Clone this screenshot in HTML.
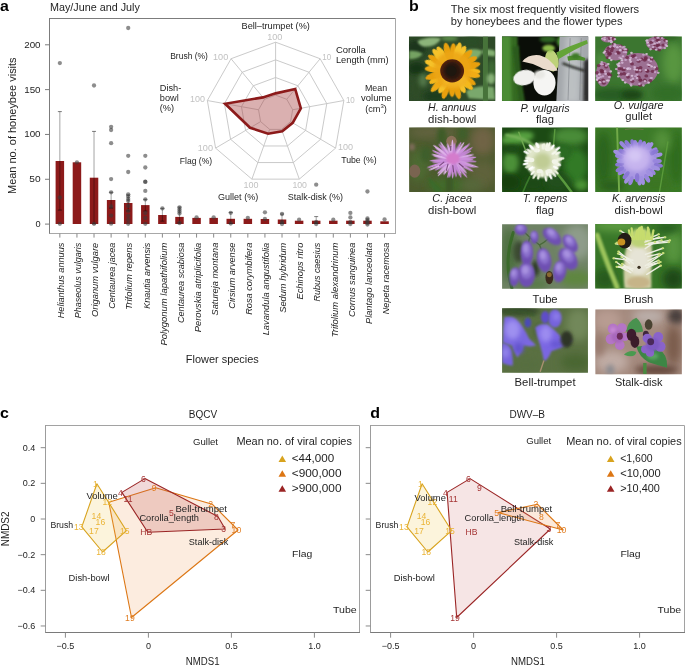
<!DOCTYPE html>
<html><head><meta charset="utf-8"><title>Figure</title>
<style>
html,body{margin:0;padding:0;background:#fff;}
body{width:685px;height:665px;overflow:hidden;}
svg{display:block;font-family:"Liberation Sans",sans-serif;will-change:transform;}
</style></head>
<body>
<svg width="685" height="665" viewBox="0 0 685 665">
<rect width="685" height="665" fill="#fff"/>
<text x="0.00" y="11.30" font-size="14.5" fill="#000" style="font-weight:bold;" transform="scale(1.1 1)">a</text>
<text x="50.00" y="11.20" font-size="10.7" fill="#1e1e1e" textLength="89.90" lengthAdjust="spacingAndGlyphs" >May/June and July</text>
<line x1="49.50" y1="18.50" x2="395.50" y2="18.50" stroke="#7c7c7c" stroke-width="1"/>
<line x1="49.50" y1="18.00" x2="49.50" y2="234.00" stroke="#7c7c7c" stroke-width="1"/>
<line x1="395.50" y1="18.50" x2="395.50" y2="233.50" stroke="#a8a8a8" stroke-width="1"/>
<line x1="49.50" y1="233.50" x2="396.00" y2="233.50" stroke="#a8a8a8" stroke-width="1"/>
<line x1="45.00" y1="224.10" x2="49.50" y2="224.10" stroke="#7c7c7c" stroke-width="1"/>
<text x="40.60" y="227.10" font-size="9.2" fill="#1e1e1e" text-anchor="end" >0</text>
<line x1="45.00" y1="179.28" x2="49.50" y2="179.28" stroke="#7c7c7c" stroke-width="1"/>
<text x="40.60" y="182.28" font-size="9.2" fill="#1e1e1e" text-anchor="end" textLength="11.30" lengthAdjust="spacingAndGlyphs" >50</text>
<line x1="45.00" y1="134.45" x2="49.50" y2="134.45" stroke="#7c7c7c" stroke-width="1"/>
<text x="40.60" y="137.45" font-size="9.2" fill="#1e1e1e" text-anchor="end" textLength="16.40" lengthAdjust="spacingAndGlyphs" >100</text>
<line x1="45.00" y1="89.62" x2="49.50" y2="89.62" stroke="#7c7c7c" stroke-width="1"/>
<text x="40.60" y="92.62" font-size="9.2" fill="#1e1e1e" text-anchor="end" textLength="16.40" lengthAdjust="spacingAndGlyphs" >150</text>
<line x1="45.00" y1="44.80" x2="49.50" y2="44.80" stroke="#7c7c7c" stroke-width="1"/>
<text x="40.60" y="47.80" font-size="9.2" fill="#1e1e1e" text-anchor="end" textLength="16.40" lengthAdjust="spacingAndGlyphs" >200</text>
<text x="16.30" y="125.70" font-size="10.6" fill="#1e1e1e" text-anchor="middle" textLength="136.60" lengthAdjust="spacingAndGlyphs" transform="rotate(-90 16.30 125.70)" >Mean no. of honeybee visits</text>
<rect x="55.60" y="161.00" width="8.5" height="63.00" fill="#8c1a1a"/>
<rect x="72.69" y="162.30" width="8.5" height="61.70" fill="#8c1a1a"/>
<rect x="89.78" y="177.70" width="8.5" height="46.30" fill="#8c1a1a"/>
<rect x="106.87" y="200.00" width="8.5" height="24.00" fill="#8c1a1a"/>
<rect x="123.96" y="203.00" width="8.5" height="21.00" fill="#8c1a1a"/>
<rect x="141.05" y="205.10" width="8.5" height="18.90" fill="#8c1a1a"/>
<rect x="158.14" y="215.00" width="8.5" height="9.00" fill="#8c1a1a"/>
<rect x="175.23" y="216.90" width="8.5" height="7.10" fill="#8c1a1a"/>
<rect x="192.32" y="217.90" width="8.5" height="6.10" fill="#8c1a1a"/>
<rect x="209.41" y="217.90" width="8.5" height="6.10" fill="#8c1a1a"/>
<rect x="226.50" y="218.80" width="8.5" height="5.20" fill="#8c1a1a"/>
<rect x="243.59" y="218.80" width="8.5" height="5.20" fill="#8c1a1a"/>
<rect x="260.68" y="219.00" width="8.5" height="5.00" fill="#8c1a1a"/>
<rect x="277.77" y="219.50" width="8.5" height="4.50" fill="#8c1a1a"/>
<rect x="294.86" y="220.70" width="8.5" height="3.30" fill="#8c1a1a"/>
<rect x="311.95" y="220.70" width="8.5" height="3.30" fill="#8c1a1a"/>
<rect x="329.04" y="220.70" width="8.5" height="3.30" fill="#8c1a1a"/>
<rect x="346.13" y="220.70" width="8.5" height="3.30" fill="#8c1a1a"/>
<rect x="363.22" y="220.70" width="8.5" height="3.30" fill="#8c1a1a"/>
<rect x="380.31" y="221.30" width="8.5" height="2.70" fill="#8c1a1a"/>
<line x1="59.85" y1="111.60" x2="59.85" y2="210.10" stroke="#000" stroke-opacity="0.36" stroke-width="1"/>
<line x1="57.85" y1="111.60" x2="61.85" y2="111.60" stroke="#000" stroke-opacity="0.5" stroke-width="1"/>
<line x1="57.85" y1="210.10" x2="61.85" y2="210.10" stroke="#000" stroke-opacity="0.5" stroke-width="1"/>
<circle cx="59.85" cy="63.10" r="2.15" fill="#3a3a3a" fill-opacity="0.58"/>
<circle cx="59.85" cy="197.40" r="2.15" fill="#3a3a3a" fill-opacity="0.58"/>
<circle cx="59.85" cy="223.80" r="2.15" fill="#3a3a3a" fill-opacity="0.58"/>
<line x1="59.85" y1="233.50" x2="59.85" y2="237.60" stroke="#8a8a8a" stroke-width="1"/>
<text x="64.15" y="242.70" font-size="9.0" fill="#1e1e1e" text-anchor="end" textLength="75.60" lengthAdjust="spacingAndGlyphs" transform="rotate(-90 64.15 242.70)" style="font-style:italic;" >Helianthus annuus</text>
<circle cx="76.94" cy="162.30" r="2.15" fill="#3a3a3a" fill-opacity="0.58"/>
<line x1="76.94" y1="233.50" x2="76.94" y2="237.60" stroke="#8a8a8a" stroke-width="1"/>
<text x="81.24" y="242.70" font-size="9.0" fill="#1e1e1e" text-anchor="end" textLength="75.60" lengthAdjust="spacingAndGlyphs" transform="rotate(-90 81.24 242.70)" style="font-style:italic;" >Phaseolus vulgaris</text>
<line x1="94.03" y1="131.40" x2="94.03" y2="224.00" stroke="#000" stroke-opacity="0.36" stroke-width="1"/>
<line x1="92.03" y1="131.40" x2="96.03" y2="131.40" stroke="#000" stroke-opacity="0.5" stroke-width="1"/>
<line x1="92.03" y1="224.00" x2="96.03" y2="224.00" stroke="#000" stroke-opacity="0.5" stroke-width="1"/>
<circle cx="94.03" cy="85.50" r="2.15" fill="#3a3a3a" fill-opacity="0.58"/>
<circle cx="94.03" cy="223.80" r="2.15" fill="#3a3a3a" fill-opacity="0.58"/>
<line x1="94.03" y1="233.50" x2="94.03" y2="237.60" stroke="#8a8a8a" stroke-width="1"/>
<text x="98.33" y="242.70" font-size="9.0" fill="#1e1e1e" text-anchor="end" textLength="74.20" lengthAdjust="spacingAndGlyphs" transform="rotate(-90 98.33 242.70)" style="font-style:italic;" >Origanum vulgare</text>
<line x1="111.12" y1="192.30" x2="111.12" y2="208.00" stroke="#000" stroke-opacity="0.36" stroke-width="1"/>
<line x1="109.12" y1="192.30" x2="113.12" y2="192.30" stroke="#000" stroke-opacity="0.5" stroke-width="1"/>
<line x1="109.12" y1="208.00" x2="113.12" y2="208.00" stroke="#000" stroke-opacity="0.5" stroke-width="1"/>
<circle cx="111.12" cy="126.80" r="2.15" fill="#3a3a3a" fill-opacity="0.58"/>
<circle cx="111.12" cy="130.00" r="2.15" fill="#3a3a3a" fill-opacity="0.58"/>
<circle cx="111.12" cy="143.20" r="2.15" fill="#3a3a3a" fill-opacity="0.58"/>
<circle cx="111.12" cy="179.10" r="2.15" fill="#3a3a3a" fill-opacity="0.58"/>
<circle cx="111.12" cy="192.30" r="2.15" fill="#3a3a3a" fill-opacity="0.58"/>
<circle cx="111.12" cy="206.50" r="2.15" fill="#3a3a3a" fill-opacity="0.58"/>
<circle cx="111.12" cy="215.60" r="2.15" fill="#3a3a3a" fill-opacity="0.58"/>
<circle cx="111.12" cy="223.70" r="2.15" fill="#3a3a3a" fill-opacity="0.58"/>
<line x1="111.12" y1="233.50" x2="111.12" y2="237.60" stroke="#8a8a8a" stroke-width="1"/>
<text x="115.42" y="242.70" font-size="9.0" fill="#1e1e1e" text-anchor="end" textLength="66.00" lengthAdjust="spacingAndGlyphs" transform="rotate(-90 115.42 242.70)" style="font-style:italic;" >Centaurea jacea</text>
<line x1="128.21" y1="195.00" x2="128.21" y2="211.00" stroke="#000" stroke-opacity="0.36" stroke-width="1"/>
<line x1="126.21" y1="195.00" x2="130.21" y2="195.00" stroke="#000" stroke-opacity="0.5" stroke-width="1"/>
<line x1="126.21" y1="211.00" x2="130.21" y2="211.00" stroke="#000" stroke-opacity="0.5" stroke-width="1"/>
<circle cx="128.21" cy="28.00" r="2.15" fill="#3a3a3a" fill-opacity="0.58"/>
<circle cx="128.21" cy="155.80" r="2.15" fill="#3a3a3a" fill-opacity="0.58"/>
<circle cx="128.21" cy="172.00" r="2.15" fill="#3a3a3a" fill-opacity="0.58"/>
<circle cx="128.21" cy="194.30" r="2.15" fill="#3a3a3a" fill-opacity="0.58"/>
<circle cx="128.21" cy="196.50" r="2.15" fill="#3a3a3a" fill-opacity="0.58"/>
<circle cx="128.21" cy="199.00" r="2.15" fill="#3a3a3a" fill-opacity="0.58"/>
<circle cx="128.21" cy="201.00" r="2.15" fill="#3a3a3a" fill-opacity="0.58"/>
<circle cx="128.21" cy="206.00" r="2.15" fill="#3a3a3a" fill-opacity="0.58"/>
<circle cx="128.21" cy="211.00" r="2.15" fill="#3a3a3a" fill-opacity="0.58"/>
<circle cx="128.21" cy="216.00" r="2.15" fill="#3a3a3a" fill-opacity="0.58"/>
<circle cx="128.21" cy="220.00" r="2.15" fill="#3a3a3a" fill-opacity="0.58"/>
<circle cx="128.21" cy="223.80" r="2.15" fill="#3a3a3a" fill-opacity="0.58"/>
<line x1="128.21" y1="233.50" x2="128.21" y2="237.60" stroke="#8a8a8a" stroke-width="1"/>
<text x="132.51" y="242.70" font-size="9.0" fill="#1e1e1e" text-anchor="end" textLength="67.00" lengthAdjust="spacingAndGlyphs" transform="rotate(-90 132.51 242.70)" style="font-style:italic;" >Trifolium repens</text>
<line x1="145.30" y1="199.40" x2="145.30" y2="211.00" stroke="#000" stroke-opacity="0.36" stroke-width="1"/>
<line x1="143.30" y1="199.40" x2="147.30" y2="199.40" stroke="#000" stroke-opacity="0.5" stroke-width="1"/>
<line x1="143.30" y1="211.00" x2="147.30" y2="211.00" stroke="#000" stroke-opacity="0.5" stroke-width="1"/>
<circle cx="145.30" cy="155.80" r="2.15" fill="#3a3a3a" fill-opacity="0.58"/>
<circle cx="145.30" cy="167.50" r="2.15" fill="#3a3a3a" fill-opacity="0.58"/>
<circle cx="145.30" cy="181.70" r="2.15" fill="#3a3a3a" fill-opacity="0.58"/>
<circle cx="145.30" cy="181.90" r="2.15" fill="#3a3a3a" fill-opacity="0.58"/>
<circle cx="145.30" cy="190.90" r="2.15" fill="#3a3a3a" fill-opacity="0.58"/>
<circle cx="145.30" cy="199.40" r="2.15" fill="#3a3a3a" fill-opacity="0.58"/>
<circle cx="145.30" cy="213.00" r="2.15" fill="#3a3a3a" fill-opacity="0.58"/>
<circle cx="145.30" cy="218.00" r="2.15" fill="#3a3a3a" fill-opacity="0.58"/>
<circle cx="145.30" cy="223.80" r="2.15" fill="#3a3a3a" fill-opacity="0.58"/>
<line x1="145.30" y1="233.50" x2="145.30" y2="237.60" stroke="#8a8a8a" stroke-width="1"/>
<text x="149.60" y="242.70" font-size="9.0" fill="#1e1e1e" text-anchor="end" textLength="66.00" lengthAdjust="spacingAndGlyphs" transform="rotate(-90 149.60 242.70)" style="font-style:italic;" >Knautia arvensis</text>
<line x1="162.39" y1="208.40" x2="162.39" y2="221.10" stroke="#000" stroke-opacity="0.36" stroke-width="1"/>
<line x1="160.39" y1="208.40" x2="164.39" y2="208.40" stroke="#000" stroke-opacity="0.5" stroke-width="1"/>
<line x1="160.39" y1="221.10" x2="164.39" y2="221.10" stroke="#000" stroke-opacity="0.5" stroke-width="1"/>
<circle cx="162.39" cy="208.40" r="2.15" fill="#3a3a3a" fill-opacity="0.58"/>
<line x1="162.39" y1="233.50" x2="162.39" y2="237.60" stroke="#8a8a8a" stroke-width="1"/>
<text x="166.69" y="242.70" font-size="9.0" fill="#1e1e1e" text-anchor="end" textLength="102.80" lengthAdjust="spacingAndGlyphs" transform="rotate(-90 166.69 242.70)" style="font-style:italic;" >Polygonum lapathifolium</text>
<line x1="179.48" y1="207.00" x2="179.48" y2="223.00" stroke="#000" stroke-opacity="0.36" stroke-width="1"/>
<line x1="177.48" y1="207.00" x2="181.48" y2="207.00" stroke="#000" stroke-opacity="0.5" stroke-width="1"/>
<line x1="177.48" y1="223.00" x2="181.48" y2="223.00" stroke="#000" stroke-opacity="0.5" stroke-width="1"/>
<circle cx="179.48" cy="207.50" r="2.15" fill="#3a3a3a" fill-opacity="0.58"/>
<circle cx="179.48" cy="209.50" r="2.15" fill="#3a3a3a" fill-opacity="0.58"/>
<circle cx="179.48" cy="211.50" r="2.15" fill="#3a3a3a" fill-opacity="0.58"/>
<circle cx="179.48" cy="213.50" r="2.15" fill="#3a3a3a" fill-opacity="0.58"/>
<circle cx="179.48" cy="223.00" r="2.15" fill="#3a3a3a" fill-opacity="0.58"/>
<line x1="179.48" y1="233.50" x2="179.48" y2="237.60" stroke="#8a8a8a" stroke-width="1"/>
<text x="183.78" y="242.70" font-size="9.0" fill="#1e1e1e" text-anchor="end" textLength="80.30" lengthAdjust="spacingAndGlyphs" transform="rotate(-90 183.78 242.70)" style="font-style:italic;" >Centaurea scabiosa</text>
<circle cx="196.57" cy="217.30" r="2.15" fill="#3a3a3a" fill-opacity="0.58"/>
<line x1="196.57" y1="233.50" x2="196.57" y2="237.60" stroke="#8a8a8a" stroke-width="1"/>
<text x="200.87" y="242.70" font-size="9.0" fill="#1e1e1e" text-anchor="end" textLength="89.50" lengthAdjust="spacingAndGlyphs" transform="rotate(-90 200.87 242.70)" style="font-style:italic;" >Perovskia atriplicifolia</text>
<circle cx="213.66" cy="217.30" r="2.15" fill="#3a3a3a" fill-opacity="0.58"/>
<line x1="213.66" y1="233.50" x2="213.66" y2="237.60" stroke="#8a8a8a" stroke-width="1"/>
<text x="217.96" y="242.70" font-size="9.0" fill="#1e1e1e" text-anchor="end" textLength="72.70" lengthAdjust="spacingAndGlyphs" transform="rotate(-90 217.96 242.70)" style="font-style:italic;" >Satureja montana</text>
<line x1="230.75" y1="212.50" x2="230.75" y2="223.50" stroke="#000" stroke-opacity="0.36" stroke-width="1"/>
<line x1="228.75" y1="212.50" x2="232.75" y2="212.50" stroke="#000" stroke-opacity="0.5" stroke-width="1"/>
<line x1="228.75" y1="223.50" x2="232.75" y2="223.50" stroke="#000" stroke-opacity="0.5" stroke-width="1"/>
<circle cx="230.75" cy="212.80" r="2.15" fill="#3a3a3a" fill-opacity="0.58"/>
<circle cx="230.75" cy="223.50" r="2.15" fill="#3a3a3a" fill-opacity="0.58"/>
<line x1="230.75" y1="233.50" x2="230.75" y2="237.60" stroke="#8a8a8a" stroke-width="1"/>
<text x="235.05" y="242.70" font-size="9.0" fill="#1e1e1e" text-anchor="end" textLength="66.00" lengthAdjust="spacingAndGlyphs" transform="rotate(-90 235.05 242.70)" style="font-style:italic;" >Cirsium arvense</text>
<circle cx="247.84" cy="217.80" r="2.15" fill="#3a3a3a" fill-opacity="0.58"/>
<line x1="247.84" y1="233.50" x2="247.84" y2="237.60" stroke="#8a8a8a" stroke-width="1"/>
<text x="252.14" y="242.70" font-size="9.0" fill="#1e1e1e" text-anchor="end" textLength="72.10" lengthAdjust="spacingAndGlyphs" transform="rotate(-90 252.14 242.70)" style="font-style:italic;" >Rosa corymbifera</text>
<circle cx="264.93" cy="212.30" r="2.15" fill="#3a3a3a" fill-opacity="0.58"/>
<circle cx="264.93" cy="219.00" r="2.15" fill="#3a3a3a" fill-opacity="0.58"/>
<line x1="264.93" y1="233.50" x2="264.93" y2="237.60" stroke="#8a8a8a" stroke-width="1"/>
<text x="269.23" y="242.70" font-size="9.0" fill="#1e1e1e" text-anchor="end" textLength="92.60" lengthAdjust="spacingAndGlyphs" transform="rotate(-90 269.23 242.70)" style="font-style:italic;" >Lavandula angustifolia</text>
<line x1="282.02" y1="214.00" x2="282.02" y2="223.50" stroke="#000" stroke-opacity="0.36" stroke-width="1"/>
<line x1="280.02" y1="214.00" x2="284.02" y2="214.00" stroke="#000" stroke-opacity="0.5" stroke-width="1"/>
<line x1="280.02" y1="223.50" x2="284.02" y2="223.50" stroke="#000" stroke-opacity="0.5" stroke-width="1"/>
<circle cx="282.02" cy="214.00" r="2.15" fill="#3a3a3a" fill-opacity="0.58"/>
<circle cx="282.02" cy="222.00" r="2.15" fill="#3a3a3a" fill-opacity="0.58"/>
<circle cx="282.02" cy="224.00" r="2.15" fill="#3a3a3a" fill-opacity="0.58"/>
<line x1="282.02" y1="233.50" x2="282.02" y2="237.60" stroke="#8a8a8a" stroke-width="1"/>
<text x="286.32" y="242.70" font-size="9.0" fill="#1e1e1e" text-anchor="end" textLength="70.10" lengthAdjust="spacingAndGlyphs" transform="rotate(-90 286.32 242.70)" style="font-style:italic;" >Sedum hybridum</text>
<circle cx="299.11" cy="219.70" r="2.15" fill="#3a3a3a" fill-opacity="0.58"/>
<line x1="299.11" y1="233.50" x2="299.11" y2="237.60" stroke="#8a8a8a" stroke-width="1"/>
<text x="303.41" y="242.70" font-size="9.0" fill="#1e1e1e" text-anchor="end" textLength="56.80" lengthAdjust="spacingAndGlyphs" transform="rotate(-90 303.41 242.70)" style="font-style:italic;" >Echinops ritro</text>
<line x1="316.20" y1="216.60" x2="316.20" y2="223.50" stroke="#000" stroke-opacity="0.36" stroke-width="1"/>
<line x1="314.20" y1="216.60" x2="318.20" y2="216.60" stroke="#000" stroke-opacity="0.5" stroke-width="1"/>
<line x1="314.20" y1="223.50" x2="318.20" y2="223.50" stroke="#000" stroke-opacity="0.5" stroke-width="1"/>
<circle cx="316.20" cy="184.70" r="2.15" fill="#3a3a3a" fill-opacity="0.58"/>
<circle cx="316.20" cy="222.00" r="2.15" fill="#3a3a3a" fill-opacity="0.58"/>
<circle cx="316.20" cy="224.00" r="2.15" fill="#3a3a3a" fill-opacity="0.58"/>
<line x1="316.20" y1="233.50" x2="316.20" y2="237.60" stroke="#8a8a8a" stroke-width="1"/>
<text x="320.50" y="242.70" font-size="9.0" fill="#1e1e1e" text-anchor="end" textLength="58.80" lengthAdjust="spacingAndGlyphs" transform="rotate(-90 320.50 242.70)" style="font-style:italic;" >Rubus caesius</text>
<circle cx="333.29" cy="219.70" r="2.15" fill="#3a3a3a" fill-opacity="0.58"/>
<line x1="333.29" y1="233.50" x2="333.29" y2="237.60" stroke="#8a8a8a" stroke-width="1"/>
<text x="337.59" y="242.70" font-size="9.0" fill="#1e1e1e" text-anchor="end" textLength="94.60" lengthAdjust="spacingAndGlyphs" transform="rotate(-90 337.59 242.70)" style="font-style:italic;" >Trifolium alexandrinum</text>
<circle cx="350.38" cy="212.90" r="2.15" fill="#3a3a3a" fill-opacity="0.58"/>
<circle cx="350.38" cy="217.40" r="2.15" fill="#3a3a3a" fill-opacity="0.58"/>
<circle cx="350.38" cy="222.00" r="2.15" fill="#3a3a3a" fill-opacity="0.58"/>
<circle cx="350.38" cy="224.00" r="2.15" fill="#3a3a3a" fill-opacity="0.58"/>
<line x1="350.38" y1="233.50" x2="350.38" y2="237.60" stroke="#8a8a8a" stroke-width="1"/>
<text x="354.68" y="242.70" font-size="9.0" fill="#1e1e1e" text-anchor="end" textLength="74.20" lengthAdjust="spacingAndGlyphs" transform="rotate(-90 354.68 242.70)" style="font-style:italic;" >Cornus sanguinea</text>
<circle cx="367.47" cy="191.50" r="2.15" fill="#3a3a3a" fill-opacity="0.58"/>
<circle cx="367.47" cy="218.50" r="2.15" fill="#3a3a3a" fill-opacity="0.58"/>
<circle cx="367.47" cy="220.00" r="2.15" fill="#3a3a3a" fill-opacity="0.58"/>
<circle cx="367.47" cy="221.50" r="2.15" fill="#3a3a3a" fill-opacity="0.58"/>
<circle cx="367.47" cy="223.00" r="2.15" fill="#3a3a3a" fill-opacity="0.58"/>
<circle cx="367.47" cy="224.50" r="2.15" fill="#3a3a3a" fill-opacity="0.58"/>
<line x1="367.47" y1="233.50" x2="367.47" y2="237.60" stroke="#8a8a8a" stroke-width="1"/>
<text x="371.77" y="242.70" font-size="9.0" fill="#1e1e1e" text-anchor="end" textLength="81.30" lengthAdjust="spacingAndGlyphs" transform="rotate(-90 371.77 242.70)" style="font-style:italic;" >Plantago lanceolata</text>
<circle cx="384.56" cy="219.50" r="2.15" fill="#3a3a3a" fill-opacity="0.58"/>
<line x1="384.56" y1="233.50" x2="384.56" y2="237.60" stroke="#8a8a8a" stroke-width="1"/>
<text x="388.86" y="242.70" font-size="9.0" fill="#1e1e1e" text-anchor="end" textLength="71.50" lengthAdjust="spacingAndGlyphs" transform="rotate(-90 388.86 242.70)" style="font-style:italic;" >Nepeta racemosa</text>
<text x="222.30" y="362.60" font-size="10.6" fill="#1e1e1e" text-anchor="middle" textLength="72.90" lengthAdjust="spacingAndGlyphs" >Flower species</text>
<polygon points="275.60,95.15 286.74,99.28 292.66,109.74 290.60,121.62 281.53,129.39 269.67,129.39 260.60,121.62 258.54,109.74 264.46,99.28" fill="none" stroke="#c4c4c4" stroke-width="0.9"/>
<polygon points="275.60,77.50 297.87,85.76 309.72,106.67 305.61,130.45 287.45,145.97 263.75,145.97 245.59,130.45 241.48,106.67 253.33,85.76" fill="none" stroke="#c4c4c4" stroke-width="0.9"/>
<polygon points="275.60,59.85 309.01,72.24 326.79,103.61 320.61,139.27 293.38,162.56 257.82,162.56 230.59,139.27 224.41,103.61 242.19,72.24" fill="none" stroke="#c4c4c4" stroke-width="0.9"/>
<polygon points="275.60,42.20 320.15,58.72 343.85,100.54 335.62,148.10 299.30,179.14 251.90,179.14 215.58,148.10 207.35,100.54 231.05,58.72" fill="none" stroke="#c4c4c4" stroke-width="0.9"/>
<line x1="275.60" y1="95.15" x2="275.60" y2="42.20" stroke="#c4c4c4" stroke-width="0.9"/>
<line x1="286.74" y1="99.28" x2="320.15" y2="58.72" stroke="#c4c4c4" stroke-width="0.9"/>
<line x1="292.66" y1="109.74" x2="343.85" y2="100.54" stroke="#c4c4c4" stroke-width="0.9"/>
<line x1="290.60" y1="121.62" x2="335.62" y2="148.10" stroke="#c4c4c4" stroke-width="0.9"/>
<line x1="281.53" y1="129.39" x2="299.30" y2="179.14" stroke="#c4c4c4" stroke-width="0.9"/>
<line x1="269.67" y1="129.39" x2="251.90" y2="179.14" stroke="#c4c4c4" stroke-width="0.9"/>
<line x1="260.60" y1="121.62" x2="215.58" y2="148.10" stroke="#c4c4c4" stroke-width="0.9"/>
<line x1="258.54" y1="109.74" x2="207.35" y2="100.54" stroke="#c4c4c4" stroke-width="0.9"/>
<line x1="264.46" y1="99.28" x2="231.05" y2="58.72" stroke="#c4c4c4" stroke-width="0.9"/>
<polygon points="275.60,93.38 295.20,89.00 300.85,108.26 292.70,122.86 282.24,131.38 268.13,133.70 250.09,127.80 225.10,103.73 262.90,97.39" fill="#a33a3a" fill-opacity="0.4" stroke="#8c1a1a" stroke-width="2.6" stroke-linejoin="miter"/>
<text x="275.70" y="28.50" font-size="9.2" fill="#1e1e1e" text-anchor="middle" textLength="68.30" lengthAdjust="spacingAndGlyphs" >Bell–trumpet (%)</text>
<text x="274.80" y="39.60" font-size="8.8" fill="#c2c2c2" text-anchor="middle" textLength="15.20" lengthAdjust="spacingAndGlyphs" >100</text>
<text x="170.20" y="58.90" font-size="9.2" fill="#1e1e1e" textLength="37.70" lengthAdjust="spacingAndGlyphs" >Brush (%)</text>
<text x="213.00" y="59.50" font-size="8.8" fill="#c2c2c2" textLength="15.20" lengthAdjust="spacingAndGlyphs" >100</text>
<text x="159.80" y="90.60" font-size="9.2" fill="#1e1e1e" >Dish-</text>
<text x="159.80" y="100.80" font-size="9.2" fill="#1e1e1e" >bowl</text>
<text x="159.80" y="110.60" font-size="9.2" fill="#1e1e1e" >(%)</text>
<text x="190.00" y="101.90" font-size="8.8" fill="#c2c2c2" textLength="15.00" lengthAdjust="spacingAndGlyphs" >100</text>
<text x="335.90" y="53.00" font-size="9.2" fill="#1e1e1e" textLength="30.00" lengthAdjust="spacingAndGlyphs" >Corolla</text>
<text x="335.90" y="63.40" font-size="9.2" fill="#1e1e1e" textLength="52.70" lengthAdjust="spacingAndGlyphs" >Length (mm)</text>
<text x="322.20" y="60.20" font-size="8.8" fill="#c2c2c2" textLength="8.90" lengthAdjust="spacingAndGlyphs" >10</text>
<text x="376.00" y="90.90" font-size="9.2" fill="#1e1e1e" text-anchor="middle" textLength="22.20" lengthAdjust="spacingAndGlyphs" >Mean</text>
<text x="376.30" y="101.40" font-size="9.2" fill="#1e1e1e" text-anchor="middle" textLength="30.40" lengthAdjust="spacingAndGlyphs" >volume</text>
<text x="376.0" y="111.8" font-size="9.2" fill="#1e1e1e" text-anchor="middle">(cm<tspan font-size="6" dy="-3.5">3</tspan><tspan dy="3.5">)</tspan></text>
<text x="345.90" y="102.70" font-size="8.8" fill="#c2c2c2" textLength="8.90" lengthAdjust="spacingAndGlyphs" >10</text>
<text x="197.80" y="151.30" font-size="8.8" fill="#c2c2c2" textLength="15.20" lengthAdjust="spacingAndGlyphs" >100</text>
<text x="179.80" y="164.00" font-size="9.2" fill="#1e1e1e" textLength="32.30" lengthAdjust="spacingAndGlyphs" >Flag (%)</text>
<text x="243.60" y="188.30" font-size="8.8" fill="#c2c2c2" textLength="15.00" lengthAdjust="spacingAndGlyphs" >100</text>
<text x="218.00" y="199.70" font-size="9.2" fill="#1e1e1e" textLength="40.20" lengthAdjust="spacingAndGlyphs" >Gullet (%)</text>
<text x="338.00" y="150.00" font-size="8.8" fill="#c2c2c2" textLength="15.10" lengthAdjust="spacingAndGlyphs" >100</text>
<text x="341.20" y="162.70" font-size="9.2" fill="#1e1e1e" textLength="35.50" lengthAdjust="spacingAndGlyphs" >Tube (%)</text>
<text x="292.40" y="188.30" font-size="8.8" fill="#c2c2c2" textLength="14.60" lengthAdjust="spacingAndGlyphs" >100</text>
<text x="287.70" y="199.70" font-size="9.2" fill="#1e1e1e" textLength="55.40" lengthAdjust="spacingAndGlyphs" >Stalk-disk (%)</text>
<text x="371.82" y="11.20" font-size="14.5" fill="#000" style="font-weight:bold;" transform="scale(1.1 1)">b</text>
<text x="450.80" y="13.00" font-size="11.1" fill="#1e1e1e" textLength="188.40" lengthAdjust="spacingAndGlyphs" >The six most frequently visited flowers</text>
<text x="450.80" y="24.70" font-size="11.1" fill="#1e1e1e" textLength="171.80" lengthAdjust="spacingAndGlyphs" >by honeybees and the flower types</text>
<defs>
<filter id="z3" filterUnits="userSpaceOnUse" x="-300" y="-300" width="1300" height="1200"><feGaussianBlur stdDeviation="3"/></filter>
<filter id="z5" filterUnits="userSpaceOnUse" x="-300" y="-300" width="1300" height="1200"><feGaussianBlur stdDeviation="5"/></filter>
<filter id="z8" filterUnits="userSpaceOnUse" x="-300" y="-300" width="1300" height="1200"><feGaussianBlur stdDeviation="8"/></filter>
<filter id="z12" filterUnits="userSpaceOnUse" x="-300" y="-300" width="1300" height="1200"><feGaussianBlur stdDeviation="12"/></filter>
<filter id="z16" filterUnits="userSpaceOnUse" x="-300" y="-300" width="1300" height="1200"><feGaussianBlur stdDeviation="16"/></filter>
<filter id="z20" filterUnits="userSpaceOnUse" x="-300" y="-300" width="1300" height="1200"><feGaussianBlur stdDeviation="20"/></filter>
<filter id="z25" filterUnits="userSpaceOnUse" x="-300" y="-300" width="1300" height="1200"><feGaussianBlur stdDeviation="25"/></filter>
<filter id="z30" filterUnits="userSpaceOnUse" x="-300" y="-300" width="1300" height="1200"><feGaussianBlur stdDeviation="30"/></filter>
<filter id="z40" filterUnits="userSpaceOnUse" x="-300" y="-300" width="1300" height="1200"><feGaussianBlur stdDeviation="40"/></filter>
</defs>
<clipPath id="pc1"><rect x="408.99" y="36.47" width="86.30" height="64.56"/></clipPath>
<g clip-path="url(#pc1)"><g transform="translate(405 33) scale(0.13870)">
<rect x="8.8" y="5" width="662.2" height="505.5" fill="#2e4a28"/>
<ellipse cx="80" cy="110" rx="70" ry="60" fill="#1a361a" filter="url(#z16)"/>
<path d="M30 130 Q80 120 130 150 Q100 190 30 190 Z" fill="#74a262" filter="url(#z8)"/>
<ellipse cx="85" cy="255" rx="65" ry="45" fill="#173416" filter="url(#z16)"/>
<ellipse cx="80" cy="400" rx="55" ry="90" fill="#2e4c26" filter="url(#z20)"/>
<path d="M90 60 Q170 20 260 40 Q230 100 140 100 Q100 90 90 60 Z" fill="#8cb47a" filter="url(#z8)"/>
<ellipse cx="320" cy="40" rx="60" ry="18" fill="#5a8a4a" filter="url(#z12)"/>
<ellipse cx="480" cy="60" rx="60" ry="40" fill="#2c4e26" filter="url(#z16)"/>
<path d="M430 130 Q500 100 560 130 Q540 190 470 200 Q440 170 430 130 Z" fill="#7eac6c" filter="url(#z8)"/>
<path d="M560 120 Q620 110 650 130 L650 170 Q600 170 560 150 Z" fill="#84b072" filter="url(#z8)"/>
<ellipse cx="625" cy="260" rx="30" ry="70" fill="#3e6a34" filter="url(#z16)"/>
<path d="M440 420 Q520 370 640 390 L650 480 Q560 480 460 470 Z" fill="#7aa86c" filter="url(#z8)"/>
<ellipse cx="220" cy="455" rx="90" ry="40" fill="#1f3c1a" filter="url(#z16)"/>
<ellipse cx="130" cy="340" rx="30" ry="50" fill="#52784a" filter="url(#z16)"/>
<rect x="562" y="25" width="36" height="470" fill="#47733a" filter="url(#z10)"/>
<ellipse cx="620" cy="330" rx="30" ry="40" fill="#86b076" filter="url(#z12)"/>
<ellipse cx="473.8" cy="275.3" rx="70" ry="24" fill="#f4b81e" filter="url(#z5)" transform="rotate(3.1 473.8 275.3)"/>
<ellipse cx="472.9" cy="296.7" rx="70" ry="24" fill="#f0ac16" filter="url(#z5)" transform="rotate(12.2 472.9 296.7)"/>
<ellipse cx="449.3" cy="335.3" rx="70" ry="24" fill="#e8a010" filter="url(#z5)" transform="rotate(31.6 449.3 335.3)"/>
<ellipse cx="436.6" cy="359.0" rx="70" ry="24" fill="#f4b81e" filter="url(#z5)" transform="rotate(43.3 436.6 359.0)"/>
<ellipse cx="398.1" cy="370.9" rx="70" ry="24" fill="#f6c22a" filter="url(#z5)" transform="rotate(60.6 398.1 370.9)"/>
<ellipse cx="375.4" cy="409.3" rx="70" ry="24" fill="#e8a010" filter="url(#z5)" transform="rotate(76.0 375.4 409.3)"/>
<ellipse cx="339.3" cy="391.9" rx="70" ry="24" fill="#e8a010" filter="url(#z5)" transform="rotate(90.3 339.3 391.9)"/>
<ellipse cx="295.1" cy="408.2" rx="70" ry="24" fill="#e8a010" filter="url(#z5)" transform="rotate(107.8 295.1 408.2)"/>
<ellipse cx="279.8" cy="373.4" rx="70" ry="24" fill="#f6c22a" filter="url(#z5)" transform="rotate(119.8 279.8 373.4)"/>
<ellipse cx="236.7" cy="373.2" rx="70" ry="24" fill="#f0ac16" filter="url(#z5)" transform="rotate(134.5 236.7 373.2)"/>
<ellipse cx="235.9" cy="327.1" rx="70" ry="24" fill="#f4b81e" filter="url(#z5)" transform="rotate(150.4 235.9 327.1)"/>
<ellipse cx="214.1" cy="307.0" rx="70" ry="24" fill="#e8a010" filter="url(#z5)" transform="rotate(162.8 214.1 307.0)"/>
<ellipse cx="211.7" cy="260.3" rx="70" ry="24" fill="#f0ac16" filter="url(#z5)" transform="rotate(183.4 211.7 260.3)"/>
<ellipse cx="209.2" cy="224.5" rx="70" ry="24" fill="#f6c22a" filter="url(#z5)" transform="rotate(198.4 209.2 224.5)"/>
<ellipse cx="226.6" cy="198.2" rx="70" ry="24" fill="#e8a010" filter="url(#z5)" transform="rotate(211.6 226.6 198.2)"/>
<ellipse cx="247.4" cy="168.7" rx="70" ry="24" fill="#f6c22a" filter="url(#z5)" transform="rotate(227.0 247.4 168.7)"/>
<ellipse cx="270.4" cy="158.1" rx="70" ry="24" fill="#f6c22a" filter="url(#z5)" transform="rotate(237.7 270.4 158.1)"/>
<ellipse cx="307.9" cy="138.4" rx="70" ry="24" fill="#e8a010" filter="url(#z5)" transform="rotate(256.1 307.9 138.4)"/>
<ellipse cx="346.4" cy="143.1" rx="70" ry="24" fill="#e8a010" filter="url(#z5)" transform="rotate(272.9 346.4 143.1)"/>
<ellipse cx="378.3" cy="135.4" rx="70" ry="24" fill="#f6c22a" filter="url(#z5)" transform="rotate(286.1 378.3 135.4)"/>
<ellipse cx="402.7" cy="154.7" rx="70" ry="24" fill="#f6c22a" filter="url(#z5)" transform="rotate(299.0 402.7 154.7)"/>
<ellipse cx="433.8" cy="173.9" rx="70" ry="24" fill="#e8a010" filter="url(#z5)" transform="rotate(314.9 433.8 173.9)"/>
<ellipse cx="456.5" cy="206.5" rx="70" ry="24" fill="#e8a010" filter="url(#z5)" transform="rotate(332.2 456.5 206.5)"/>
<ellipse cx="474.9" cy="236.5" rx="70" ry="24" fill="#e8a010" filter="url(#z5)" transform="rotate(346.9 474.9 236.5)"/>
<ellipse cx="340" cy="268" rx="135" ry="135" fill="#eca616" filter="url(#z12)" opacity="0.85"/>
<ellipse cx="360" cy="338" rx="90" ry="50" fill="#f8c434" filter="url(#z16)" opacity="0.5"/>
<ellipse cx="340" cy="273" rx="86" ry="84" fill="#522410" filter="url(#z5)"/>
<ellipse cx="340" cy="273" rx="66" ry="66" fill="#2a180c" filter="url(#z8)"/>
<ellipse cx="335" cy="273" rx="38" ry="38" fill="#1e170f" filter="url(#z10)"/>
</g></g>
<clipPath id="pc2"><rect x="501.99" y="36.47" width="86.16" height="64.56"/></clipPath>
<g clip-path="url(#pc2)"><g transform="translate(498 33) scale(0.13870)">
<rect x="8.8" y="5" width="661.2" height="505.5" fill="#0a0e08"/>
<path d="M20 20 L140 20 Q140 250 175 500 L20 500 Z" fill="#346a24" filter="url(#z8)"/>
<path d="M20 20 L90 20 Q90 250 100 500 L20 500 Z" fill="#4c8c34" filter="url(#z12)"/>
<path d="M105 100 L150 90 Q160 300 195 500 L150 500 Q130 300 105 100 Z" fill="#2a5a1e" filter="url(#z8)"/>
<ellipse cx="360" cy="45" rx="60" ry="25" fill="#2e6222" filter="url(#z12)"/>
<ellipse cx="470" cy="60" rx="45" ry="45" fill="#4c9a32" filter="url(#z12)"/>
<path d="M445 20 L660 20 L660 500 L420 500 Z" fill="#a4a8ac" filter="url(#z5)"/>
<path d="M490 20 L590 20 L585 500 L470 500 Z" fill="#bcc0c2" filter="url(#z20)"/>
<path d="M520 40 L505 480" fill="none" stroke="#8e9296" stroke-width="6" stroke-linecap="round" filter="url(#z5)"/>
<path d="M600 40 L590 480" fill="none" stroke="#8a8e92" stroke-width="6" stroke-linecap="round" filter="url(#z5)"/>
<path d="M620 200 L660 180 L660 500 L615 500 Z" fill="#2c2c2a" filter="url(#z12)"/>
<path d="M470 220 Q540 250 620 270" fill="none" stroke="#1e201c" stroke-width="14" stroke-linecap="round" filter="url(#z8)"/>
<path d="M420 140 Q520 90 640 50 L648 75 Q560 112 435 190 Z" fill="#64a438" filter="url(#z6)"/>
<path d="M500 170 Q560 150 630 180 L625 200 Q560 190 505 200 Z" fill="#4c8c2c" filter="url(#z6)"/>
<ellipse cx="560" cy="165" rx="30" ry="20" fill="#3e7a26" filter="url(#z8)"/>
<ellipse cx="388" cy="200" rx="48" ry="78" fill="#bed27a" filter="url(#z6)" transform="rotate(-10 388 200)"/>
<ellipse cx="365" cy="110" rx="45" ry="25" fill="#8cbc48" filter="url(#z8)"/>
<path d="M175 205 Q220 150 300 160 Q380 180 430 270 Q360 280 300 245 Q240 215 175 205 Z" fill="#eadbcc" filter="url(#z5)"/>
<ellipse cx="190" cy="322" rx="80" ry="55" fill="#f0f0ee" filter="url(#z5)" transform="rotate(-12 190 322)"/>
<ellipse cx="335" cy="358" rx="80" ry="92" fill="#f5f5f3" filter="url(#z5)"/>
<ellipse cx="300" cy="300" rx="40" ry="30" fill="#e8e8e4" filter="url(#z8)"/>
</g></g>
<clipPath id="pc3"><rect x="595.20" y="36.43" width="86.65" height="64.50"/></clipPath>
<g clip-path="url(#pc3)"><g transform="translate(591 33) scale(0.13723)">
<rect x="10.600000000000001" y="5" width="671.4" height="510" fill="#3c7630"/>
<ellipse cx="600" cy="220" rx="80" ry="150" fill="#58963f" filter="url(#z30)"/>
<ellipse cx="560" cy="440" rx="120" ry="60" fill="#336e28" filter="url(#z25)"/>
<ellipse cx="150" cy="450" rx="140" ry="50" fill="#285c20" filter="url(#z25)"/>
<ellipse cx="300" cy="450" rx="80" ry="40" fill="#1a4616" filter="url(#z20)"/>
<ellipse cx="80" cy="200" rx="50" ry="60" fill="#4e8a3c" filter="url(#z25)"/>
<ellipse cx="560" cy="30" rx="80" ry="20" fill="#2e6424" filter="url(#z16)"/>
<ellipse cx="340" cy="265" rx="150" ry="120" fill="#9c7092" filter="url(#z14)"/>
<ellipse cx="432" cy="348" rx="14" ry="12" fill="#6e2a4a" filter="url(#z5)" opacity="0.8"/>
<ellipse cx="347" cy="205" rx="14" ry="12" fill="#6e2a4a" filter="url(#z5)" opacity="0.8"/>
<ellipse cx="239" cy="267" rx="14" ry="12" fill="#6e2a4a" filter="url(#z5)" opacity="0.8"/>
<ellipse cx="263" cy="178" rx="14" ry="12" fill="#6e2a4a" filter="url(#z5)" opacity="0.8"/>
<ellipse cx="361" cy="276" rx="14" ry="12" fill="#6e2a4a" filter="url(#z5)" opacity="0.8"/>
<ellipse cx="391" cy="197" rx="14" ry="12" fill="#6e2a4a" filter="url(#z5)" opacity="0.8"/>
<ellipse cx="341" cy="260" rx="14" ry="12" fill="#6e2a4a" filter="url(#z5)" opacity="0.8"/>
<ellipse cx="220" cy="299" rx="14" ry="12" fill="#6e2a4a" filter="url(#z5)" opacity="0.8"/>
<ellipse cx="359" cy="381" rx="14" ry="12" fill="#6e2a4a" filter="url(#z5)" opacity="0.8"/>
<ellipse cx="361" cy="253" rx="14" ry="12" fill="#6e2a4a" filter="url(#z5)" opacity="0.8"/>
<ellipse cx="449" cy="279" rx="14" ry="12" fill="#6e2a4a" filter="url(#z5)" opacity="0.8"/>
<ellipse cx="426" cy="237" rx="14" ry="12" fill="#6e2a4a" filter="url(#z5)" opacity="0.8"/>
<ellipse cx="360" cy="341" rx="14" ry="12" fill="#6e2a4a" filter="url(#z5)" opacity="0.8"/>
<ellipse cx="409" cy="275" rx="14" ry="12" fill="#6e2a4a" filter="url(#z5)" opacity="0.8"/>
<ellipse cx="242" cy="297" rx="14" ry="12" fill="#6e2a4a" filter="url(#z5)" opacity="0.8"/>
<ellipse cx="348" cy="322" rx="14" ry="12" fill="#6e2a4a" filter="url(#z5)" opacity="0.8"/>
<ellipse cx="360" cy="345" rx="14" ry="12" fill="#6e2a4a" filter="url(#z5)" opacity="0.8"/>
<ellipse cx="335" cy="282" rx="14" ry="12" fill="#6e2a4a" filter="url(#z5)" opacity="0.8"/>
<ellipse cx="399" cy="189" rx="14" ry="12" fill="#6e2a4a" filter="url(#z5)" opacity="0.8"/>
<ellipse cx="299" cy="225" rx="14" ry="12" fill="#6e2a4a" filter="url(#z5)" opacity="0.8"/>
<ellipse cx="479" cy="260" rx="14" ry="12" fill="#6e2a4a" filter="url(#z5)" opacity="0.8"/>
<ellipse cx="403" cy="313" rx="14" ry="12" fill="#6e2a4a" filter="url(#z5)" opacity="0.8"/>
<ellipse cx="317" cy="165" rx="14" ry="12" fill="#6e2a4a" filter="url(#z5)" opacity="0.8"/>
<ellipse cx="430" cy="235" rx="14" ry="12" fill="#6e2a4a" filter="url(#z5)" opacity="0.8"/>
<ellipse cx="399" cy="179" rx="14" ry="12" fill="#6e2a4a" filter="url(#z5)" opacity="0.8"/>
<ellipse cx="302" cy="352" rx="14" ry="12" fill="#6e2a4a" filter="url(#z5)" opacity="0.8"/>
<ellipse cx="442" cy="191" rx="14" ry="12" fill="#6e2a4a" filter="url(#z5)" opacity="0.8"/>
<ellipse cx="225" cy="262" rx="14" ry="12" fill="#6e2a4a" filter="url(#z5)" opacity="0.8"/>
<ellipse cx="412" cy="278" rx="14" ry="12" fill="#6e2a4a" filter="url(#z5)" opacity="0.8"/>
<ellipse cx="368" cy="191" rx="14" ry="12" fill="#6e2a4a" filter="url(#z5)" opacity="0.8"/>
<ellipse cx="392" cy="344" rx="14" ry="12" fill="#6e2a4a" filter="url(#z5)" opacity="0.8"/>
<ellipse cx="304" cy="171" rx="14" ry="12" fill="#6e2a4a" filter="url(#z5)" opacity="0.8"/>
<ellipse cx="270" cy="321" rx="14" ry="12" fill="#6e2a4a" filter="url(#z5)" opacity="0.8"/>
<ellipse cx="208" cy="259" rx="14" ry="12" fill="#6e2a4a" filter="url(#z5)" opacity="0.8"/>
<ellipse cx="242" cy="255" rx="10" ry="8" fill="#c8a6cc" filter="url(#z3)" opacity="0.85"/>
<ellipse cx="328" cy="179" rx="10" ry="8" fill="#c8a6cc" filter="url(#z3)" opacity="0.85"/>
<ellipse cx="295" cy="145" rx="10" ry="8" fill="#dcc4de" filter="url(#z3)" opacity="0.85"/>
<ellipse cx="228" cy="217" rx="10" ry="8" fill="#d2b4d4" filter="url(#z3)" opacity="0.85"/>
<ellipse cx="184" cy="263" rx="10" ry="8" fill="#d2b4d4" filter="url(#z3)" opacity="0.85"/>
<ellipse cx="198" cy="236" rx="10" ry="8" fill="#d2b4d4" filter="url(#z3)" opacity="0.85"/>
<ellipse cx="264" cy="307" rx="10" ry="8" fill="#dcc4de" filter="url(#z3)" opacity="0.85"/>
<ellipse cx="249" cy="361" rx="10" ry="8" fill="#dcc4de" filter="url(#z3)" opacity="0.85"/>
<ellipse cx="193" cy="228" rx="10" ry="8" fill="#d2b4d4" filter="url(#z3)" opacity="0.85"/>
<ellipse cx="231" cy="343" rx="10" ry="8" fill="#dcc4de" filter="url(#z3)" opacity="0.85"/>
<ellipse cx="284" cy="261" rx="10" ry="8" fill="#dcc4de" filter="url(#z3)" opacity="0.85"/>
<ellipse cx="382" cy="383" rx="10" ry="8" fill="#c8a6cc" filter="url(#z3)" opacity="0.85"/>
<ellipse cx="421" cy="196" rx="10" ry="8" fill="#d2b4d4" filter="url(#z3)" opacity="0.85"/>
<ellipse cx="434" cy="236" rx="10" ry="8" fill="#c8a6cc" filter="url(#z3)" opacity="0.85"/>
<ellipse cx="335" cy="268" rx="10" ry="8" fill="#dcc4de" filter="url(#z3)" opacity="0.85"/>
<ellipse cx="252" cy="196" rx="10" ry="8" fill="#c8a6cc" filter="url(#z3)" opacity="0.85"/>
<ellipse cx="226" cy="199" rx="10" ry="8" fill="#dcc4de" filter="url(#z3)" opacity="0.85"/>
<ellipse cx="393" cy="351" rx="10" ry="8" fill="#d2b4d4" filter="url(#z3)" opacity="0.85"/>
<ellipse cx="382" cy="158" rx="10" ry="8" fill="#c8a6cc" filter="url(#z3)" opacity="0.85"/>
<ellipse cx="490" cy="290" rx="10" ry="8" fill="#d2b4d4" filter="url(#z3)" opacity="0.85"/>
<ellipse cx="358" cy="273" rx="10" ry="8" fill="#d2b4d4" filter="url(#z3)" opacity="0.85"/>
<ellipse cx="342" cy="198" rx="10" ry="8" fill="#c8a6cc" filter="url(#z3)" opacity="0.85"/>
<ellipse cx="436" cy="328" rx="10" ry="8" fill="#c8a6cc" filter="url(#z3)" opacity="0.85"/>
<ellipse cx="324" cy="315" rx="10" ry="8" fill="#c8a6cc" filter="url(#z3)" opacity="0.85"/>
<ellipse cx="276" cy="256" rx="10" ry="8" fill="#c8a6cc" filter="url(#z3)" opacity="0.85"/>
<ellipse cx="289" cy="210" rx="10" ry="8" fill="#dcc4de" filter="url(#z3)" opacity="0.85"/>
<ellipse cx="293" cy="343" rx="10" ry="8" fill="#d2b4d4" filter="url(#z3)" opacity="0.85"/>
<ellipse cx="305" cy="333" rx="10" ry="8" fill="#d2b4d4" filter="url(#z3)" opacity="0.85"/>
<ellipse cx="336" cy="328" rx="10" ry="8" fill="#dcc4de" filter="url(#z3)" opacity="0.85"/>
<ellipse cx="268" cy="261" rx="10" ry="8" fill="#dcc4de" filter="url(#z3)" opacity="0.85"/>
<ellipse cx="199" cy="317" rx="10" ry="8" fill="#d2b4d4" filter="url(#z3)" opacity="0.85"/>
<ellipse cx="400" cy="270" rx="10" ry="8" fill="#dcc4de" filter="url(#z3)" opacity="0.85"/>
<ellipse cx="442" cy="244" rx="10" ry="8" fill="#dcc4de" filter="url(#z3)" opacity="0.85"/>
<ellipse cx="289" cy="181" rx="10" ry="8" fill="#d2b4d4" filter="url(#z3)" opacity="0.85"/>
<ellipse cx="464" cy="251" rx="10" ry="8" fill="#dcc4de" filter="url(#z3)" opacity="0.85"/>
<ellipse cx="266" cy="259" rx="10" ry="8" fill="#dcc4de" filter="url(#z3)" opacity="0.85"/>
<ellipse cx="467" cy="285" rx="10" ry="8" fill="#c8a6cc" filter="url(#z3)" opacity="0.85"/>
<ellipse cx="285" cy="196" rx="10" ry="8" fill="#dcc4de" filter="url(#z3)" opacity="0.85"/>
<ellipse cx="293" cy="383" rx="10" ry="8" fill="#d2b4d4" filter="url(#z3)" opacity="0.85"/>
<ellipse cx="289" cy="374" rx="10" ry="8" fill="#c8a6cc" filter="url(#z3)" opacity="0.85"/>
<ellipse cx="415" cy="231" rx="10" ry="8" fill="#d2b4d4" filter="url(#z3)" opacity="0.85"/>
<ellipse cx="272" cy="297" rx="10" ry="8" fill="#d2b4d4" filter="url(#z3)" opacity="0.85"/>
<ellipse cx="205" cy="222" rx="10" ry="8" fill="#dcc4de" filter="url(#z3)" opacity="0.85"/>
<ellipse cx="405" cy="153" rx="10" ry="8" fill="#dcc4de" filter="url(#z3)" opacity="0.85"/>
<ellipse cx="201" cy="293" rx="10" ry="8" fill="#dcc4de" filter="url(#z3)" opacity="0.85"/>
<ellipse cx="318" cy="248" rx="10" ry="8" fill="#d2b4d4" filter="url(#z3)" opacity="0.85"/>
<ellipse cx="299" cy="312" rx="10" ry="8" fill="#dcc4de" filter="url(#z3)" opacity="0.85"/>
<ellipse cx="436" cy="206" rx="10" ry="8" fill="#c8a6cc" filter="url(#z3)" opacity="0.85"/>
<ellipse cx="442" cy="328" rx="10" ry="8" fill="#c8a6cc" filter="url(#z3)" opacity="0.85"/>
<ellipse cx="319" cy="265" rx="10" ry="8" fill="#dcc4de" filter="url(#z3)" opacity="0.85"/>
<ellipse cx="443" cy="179" rx="10" ry="8" fill="#d2b4d4" filter="url(#z3)" opacity="0.85"/>
<ellipse cx="420" cy="362" rx="10" ry="8" fill="#dcc4de" filter="url(#z3)" opacity="0.85"/>
<ellipse cx="359" cy="193" rx="10" ry="8" fill="#d2b4d4" filter="url(#z3)" opacity="0.85"/>
<ellipse cx="335" cy="304" rx="10" ry="8" fill="#c8a6cc" filter="url(#z3)" opacity="0.85"/>
<ellipse cx="424" cy="234" rx="10" ry="8" fill="#dcc4de" filter="url(#z3)" opacity="0.85"/>
<ellipse cx="205" cy="241" rx="10" ry="8" fill="#dcc4de" filter="url(#z3)" opacity="0.85"/>
<ellipse cx="353" cy="372" rx="10" ry="8" fill="#d2b4d4" filter="url(#z3)" opacity="0.85"/>
<ellipse cx="180" cy="140" rx="85" ry="60" fill="#9c7092" filter="url(#z14)"/>
<ellipse cx="260" cy="124" rx="14" ry="12" fill="#6e2a4a" filter="url(#z5)" opacity="0.8"/>
<ellipse cx="203" cy="146" rx="14" ry="12" fill="#6e2a4a" filter="url(#z5)" opacity="0.8"/>
<ellipse cx="217" cy="96" rx="14" ry="12" fill="#6e2a4a" filter="url(#z5)" opacity="0.8"/>
<ellipse cx="157" cy="111" rx="14" ry="12" fill="#6e2a4a" filter="url(#z5)" opacity="0.8"/>
<ellipse cx="128" cy="111" rx="14" ry="12" fill="#6e2a4a" filter="url(#z5)" opacity="0.8"/>
<ellipse cx="150" cy="128" rx="14" ry="12" fill="#6e2a4a" filter="url(#z5)" opacity="0.8"/>
<ellipse cx="132" cy="156" rx="14" ry="12" fill="#6e2a4a" filter="url(#z5)" opacity="0.8"/>
<ellipse cx="166" cy="81" rx="14" ry="12" fill="#6e2a4a" filter="url(#z5)" opacity="0.8"/>
<ellipse cx="240" cy="126" rx="14" ry="12" fill="#6e2a4a" filter="url(#z5)" opacity="0.8"/>
<ellipse cx="139" cy="151" rx="14" ry="12" fill="#6e2a4a" filter="url(#z5)" opacity="0.8"/>
<ellipse cx="194" cy="142" rx="14" ry="12" fill="#6e2a4a" filter="url(#z5)" opacity="0.8"/>
<ellipse cx="133" cy="147" rx="14" ry="12" fill="#6e2a4a" filter="url(#z5)" opacity="0.8"/>
<ellipse cx="121" cy="179" rx="14" ry="12" fill="#6e2a4a" filter="url(#z5)" opacity="0.8"/>
<ellipse cx="117" cy="133" rx="14" ry="12" fill="#6e2a4a" filter="url(#z5)" opacity="0.8"/>
<ellipse cx="181" cy="150" rx="10" ry="8" fill="#c8a6cc" filter="url(#z3)" opacity="0.85"/>
<ellipse cx="209" cy="180" rx="10" ry="8" fill="#c8a6cc" filter="url(#z3)" opacity="0.85"/>
<ellipse cx="253" cy="140" rx="10" ry="8" fill="#d2b4d4" filter="url(#z3)" opacity="0.85"/>
<ellipse cx="240" cy="139" rx="10" ry="8" fill="#c8a6cc" filter="url(#z3)" opacity="0.85"/>
<ellipse cx="172" cy="80" rx="10" ry="8" fill="#c8a6cc" filter="url(#z3)" opacity="0.85"/>
<ellipse cx="193" cy="104" rx="10" ry="8" fill="#c8a6cc" filter="url(#z3)" opacity="0.85"/>
<ellipse cx="221" cy="186" rx="10" ry="8" fill="#dcc4de" filter="url(#z3)" opacity="0.85"/>
<ellipse cx="175" cy="89" rx="10" ry="8" fill="#d2b4d4" filter="url(#z3)" opacity="0.85"/>
<ellipse cx="94" cy="144" rx="10" ry="8" fill="#dcc4de" filter="url(#z3)" opacity="0.85"/>
<ellipse cx="101" cy="135" rx="10" ry="8" fill="#dcc4de" filter="url(#z3)" opacity="0.85"/>
<ellipse cx="243" cy="100" rx="10" ry="8" fill="#c8a6cc" filter="url(#z3)" opacity="0.85"/>
<ellipse cx="135" cy="183" rx="10" ry="8" fill="#dcc4de" filter="url(#z3)" opacity="0.85"/>
<ellipse cx="170" cy="97" rx="10" ry="8" fill="#d2b4d4" filter="url(#z3)" opacity="0.85"/>
<ellipse cx="255" cy="119" rx="10" ry="8" fill="#d2b4d4" filter="url(#z3)" opacity="0.85"/>
<ellipse cx="230" cy="105" rx="10" ry="8" fill="#c8a6cc" filter="url(#z3)" opacity="0.85"/>
<ellipse cx="148" cy="197" rx="10" ry="8" fill="#dcc4de" filter="url(#z3)" opacity="0.85"/>
<ellipse cx="213" cy="99" rx="10" ry="8" fill="#dcc4de" filter="url(#z3)" opacity="0.85"/>
<ellipse cx="140" cy="101" rx="10" ry="8" fill="#c8a6cc" filter="url(#z3)" opacity="0.85"/>
<ellipse cx="173" cy="96" rx="10" ry="8" fill="#c8a6cc" filter="url(#z3)" opacity="0.85"/>
<ellipse cx="245" cy="120" rx="10" ry="8" fill="#d2b4d4" filter="url(#z3)" opacity="0.85"/>
<ellipse cx="191" cy="104" rx="10" ry="8" fill="#d2b4d4" filter="url(#z3)" opacity="0.85"/>
<ellipse cx="213" cy="125" rx="10" ry="8" fill="#dcc4de" filter="url(#z3)" opacity="0.85"/>
<ellipse cx="233" cy="170" rx="10" ry="8" fill="#d2b4d4" filter="url(#z3)" opacity="0.85"/>
<ellipse cx="90" cy="300" rx="55" ry="90" fill="#9c7092" filter="url(#z14)"/>
<ellipse cx="93" cy="366" rx="14" ry="12" fill="#6e2a4a" filter="url(#z5)" opacity="0.8"/>
<ellipse cx="61" cy="351" rx="14" ry="12" fill="#6e2a4a" filter="url(#z5)" opacity="0.8"/>
<ellipse cx="80" cy="284" rx="14" ry="12" fill="#6e2a4a" filter="url(#z5)" opacity="0.8"/>
<ellipse cx="140" cy="307" rx="14" ry="12" fill="#6e2a4a" filter="url(#z5)" opacity="0.8"/>
<ellipse cx="88" cy="343" rx="14" ry="12" fill="#6e2a4a" filter="url(#z5)" opacity="0.8"/>
<ellipse cx="128" cy="298" rx="14" ry="12" fill="#6e2a4a" filter="url(#z5)" opacity="0.8"/>
<ellipse cx="110" cy="247" rx="14" ry="12" fill="#6e2a4a" filter="url(#z5)" opacity="0.8"/>
<ellipse cx="76" cy="273" rx="14" ry="12" fill="#6e2a4a" filter="url(#z5)" opacity="0.8"/>
<ellipse cx="56" cy="237" rx="14" ry="12" fill="#6e2a4a" filter="url(#z5)" opacity="0.8"/>
<ellipse cx="43" cy="289" rx="14" ry="12" fill="#6e2a4a" filter="url(#z5)" opacity="0.8"/>
<ellipse cx="83" cy="280" rx="14" ry="12" fill="#6e2a4a" filter="url(#z5)" opacity="0.8"/>
<ellipse cx="92" cy="231" rx="14" ry="12" fill="#6e2a4a" filter="url(#z5)" opacity="0.8"/>
<ellipse cx="87" cy="316" rx="10" ry="8" fill="#c8a6cc" filter="url(#z3)" opacity="0.85"/>
<ellipse cx="42" cy="314" rx="10" ry="8" fill="#c8a6cc" filter="url(#z3)" opacity="0.85"/>
<ellipse cx="78" cy="212" rx="10" ry="8" fill="#c8a6cc" filter="url(#z3)" opacity="0.85"/>
<ellipse cx="84" cy="229" rx="10" ry="8" fill="#d2b4d4" filter="url(#z3)" opacity="0.85"/>
<ellipse cx="103" cy="280" rx="10" ry="8" fill="#d2b4d4" filter="url(#z3)" opacity="0.85"/>
<ellipse cx="61" cy="302" rx="10" ry="8" fill="#dcc4de" filter="url(#z3)" opacity="0.85"/>
<ellipse cx="48" cy="329" rx="10" ry="8" fill="#c8a6cc" filter="url(#z3)" opacity="0.85"/>
<ellipse cx="44" cy="341" rx="10" ry="8" fill="#dcc4de" filter="url(#z3)" opacity="0.85"/>
<ellipse cx="64" cy="358" rx="10" ry="8" fill="#dcc4de" filter="url(#z3)" opacity="0.85"/>
<ellipse cx="94" cy="355" rx="10" ry="8" fill="#d2b4d4" filter="url(#z3)" opacity="0.85"/>
<ellipse cx="126" cy="226" rx="10" ry="8" fill="#dcc4de" filter="url(#z3)" opacity="0.85"/>
<ellipse cx="74" cy="226" rx="10" ry="8" fill="#c8a6cc" filter="url(#z3)" opacity="0.85"/>
<ellipse cx="144" cy="280" rx="10" ry="8" fill="#dcc4de" filter="url(#z3)" opacity="0.85"/>
<ellipse cx="127" cy="347" rx="10" ry="8" fill="#dcc4de" filter="url(#z3)" opacity="0.85"/>
<ellipse cx="111" cy="238" rx="10" ry="8" fill="#c8a6cc" filter="url(#z3)" opacity="0.85"/>
<ellipse cx="118" cy="346" rx="10" ry="8" fill="#dcc4de" filter="url(#z3)" opacity="0.85"/>
<ellipse cx="107" cy="298" rx="10" ry="8" fill="#d2b4d4" filter="url(#z3)" opacity="0.85"/>
<ellipse cx="71" cy="320" rx="10" ry="8" fill="#c8a6cc" filter="url(#z3)" opacity="0.85"/>
<ellipse cx="57" cy="327" rx="10" ry="8" fill="#d2b4d4" filter="url(#z3)" opacity="0.85"/>
<ellipse cx="134" cy="320" rx="10" ry="8" fill="#d2b4d4" filter="url(#z3)" opacity="0.85"/>
<ellipse cx="480" cy="75" rx="80" ry="50" fill="#9c7092" filter="url(#z14)"/>
<ellipse cx="482" cy="91" rx="14" ry="12" fill="#6e2a4a" filter="url(#z5)" opacity="0.8"/>
<ellipse cx="455" cy="87" rx="14" ry="12" fill="#6e2a4a" filter="url(#z5)" opacity="0.8"/>
<ellipse cx="526" cy="88" rx="14" ry="12" fill="#6e2a4a" filter="url(#z5)" opacity="0.8"/>
<ellipse cx="542" cy="53" rx="14" ry="12" fill="#6e2a4a" filter="url(#z5)" opacity="0.8"/>
<ellipse cx="484" cy="52" rx="14" ry="12" fill="#6e2a4a" filter="url(#z5)" opacity="0.8"/>
<ellipse cx="439" cy="69" rx="14" ry="12" fill="#6e2a4a" filter="url(#z5)" opacity="0.8"/>
<ellipse cx="492" cy="89" rx="14" ry="12" fill="#6e2a4a" filter="url(#z5)" opacity="0.8"/>
<ellipse cx="497" cy="122" rx="14" ry="12" fill="#6e2a4a" filter="url(#z5)" opacity="0.8"/>
<ellipse cx="514" cy="36" rx="14" ry="12" fill="#6e2a4a" filter="url(#z5)" opacity="0.8"/>
<ellipse cx="491" cy="54" rx="14" ry="12" fill="#6e2a4a" filter="url(#z5)" opacity="0.8"/>
<ellipse cx="457" cy="112" rx="14" ry="12" fill="#6e2a4a" filter="url(#z5)" opacity="0.8"/>
<ellipse cx="472" cy="29" rx="14" ry="12" fill="#6e2a4a" filter="url(#z5)" opacity="0.8"/>
<ellipse cx="498" cy="64" rx="10" ry="8" fill="#dcc4de" filter="url(#z3)" opacity="0.85"/>
<ellipse cx="453" cy="103" rx="10" ry="8" fill="#d2b4d4" filter="url(#z3)" opacity="0.85"/>
<ellipse cx="505" cy="107" rx="10" ry="8" fill="#d2b4d4" filter="url(#z3)" opacity="0.85"/>
<ellipse cx="551" cy="59" rx="10" ry="8" fill="#dcc4de" filter="url(#z3)" opacity="0.85"/>
<ellipse cx="484" cy="71" rx="10" ry="8" fill="#c8a6cc" filter="url(#z3)" opacity="0.85"/>
<ellipse cx="409" cy="53" rx="10" ry="8" fill="#dcc4de" filter="url(#z3)" opacity="0.85"/>
<ellipse cx="498" cy="107" rx="10" ry="8" fill="#c8a6cc" filter="url(#z3)" opacity="0.85"/>
<ellipse cx="449" cy="84" rx="10" ry="8" fill="#c8a6cc" filter="url(#z3)" opacity="0.85"/>
<ellipse cx="475" cy="122" rx="10" ry="8" fill="#d2b4d4" filter="url(#z3)" opacity="0.85"/>
<ellipse cx="544" cy="87" rx="10" ry="8" fill="#c8a6cc" filter="url(#z3)" opacity="0.85"/>
<ellipse cx="413" cy="70" rx="10" ry="8" fill="#dcc4de" filter="url(#z3)" opacity="0.85"/>
<ellipse cx="434" cy="119" rx="10" ry="8" fill="#d2b4d4" filter="url(#z3)" opacity="0.85"/>
<ellipse cx="553" cy="95" rx="10" ry="8" fill="#dcc4de" filter="url(#z3)" opacity="0.85"/>
<ellipse cx="450" cy="55" rx="10" ry="8" fill="#c8a6cc" filter="url(#z3)" opacity="0.85"/>
<ellipse cx="421" cy="91" rx="10" ry="8" fill="#dcc4de" filter="url(#z3)" opacity="0.85"/>
<ellipse cx="405" cy="57" rx="10" ry="8" fill="#d2b4d4" filter="url(#z3)" opacity="0.85"/>
<ellipse cx="518" cy="38" rx="10" ry="8" fill="#c8a6cc" filter="url(#z3)" opacity="0.85"/>
<ellipse cx="486" cy="34" rx="10" ry="8" fill="#d2b4d4" filter="url(#z3)" opacity="0.85"/>
<ellipse cx="538" cy="110" rx="10" ry="8" fill="#c8a6cc" filter="url(#z3)" opacity="0.85"/>
<ellipse cx="463" cy="78" rx="10" ry="8" fill="#dcc4de" filter="url(#z3)" opacity="0.85"/>
<ellipse cx="125" cy="45" rx="50" ry="25" fill="#9c7092" filter="url(#z14)"/>
<ellipse cx="94" cy="30" rx="14" ry="12" fill="#6e2a4a" filter="url(#z5)" opacity="0.8"/>
<ellipse cx="139" cy="22" rx="14" ry="12" fill="#6e2a4a" filter="url(#z5)" opacity="0.8"/>
<ellipse cx="122" cy="21" rx="14" ry="12" fill="#6e2a4a" filter="url(#z5)" opacity="0.8"/>
<ellipse cx="159" cy="48" rx="14" ry="12" fill="#6e2a4a" filter="url(#z5)" opacity="0.8"/>
<ellipse cx="163" cy="38" rx="14" ry="12" fill="#6e2a4a" filter="url(#z5)" opacity="0.8"/>
<ellipse cx="139" cy="40" rx="14" ry="12" fill="#6e2a4a" filter="url(#z5)" opacity="0.8"/>
<ellipse cx="99" cy="48" rx="10" ry="8" fill="#dcc4de" filter="url(#z3)" opacity="0.85"/>
<ellipse cx="146" cy="53" rx="10" ry="8" fill="#dcc4de" filter="url(#z3)" opacity="0.85"/>
<ellipse cx="131" cy="59" rx="10" ry="8" fill="#c8a6cc" filter="url(#z3)" opacity="0.85"/>
<ellipse cx="150" cy="65" rx="10" ry="8" fill="#d2b4d4" filter="url(#z3)" opacity="0.85"/>
<ellipse cx="99" cy="33" rx="10" ry="8" fill="#d2b4d4" filter="url(#z3)" opacity="0.85"/>
<ellipse cx="174" cy="45" rx="10" ry="8" fill="#d2b4d4" filter="url(#z3)" opacity="0.85"/>
<ellipse cx="133" cy="20" rx="10" ry="8" fill="#d2b4d4" filter="url(#z3)" opacity="0.85"/>
<ellipse cx="145" cy="35" rx="10" ry="8" fill="#d2b4d4" filter="url(#z3)" opacity="0.85"/>
<ellipse cx="83" cy="40" rx="10" ry="8" fill="#d2b4d4" filter="url(#z3)" opacity="0.85"/>
<ellipse cx="147" cy="68" rx="10" ry="8" fill="#d2b4d4" filter="url(#z3)" opacity="0.85"/>
</g></g>
<clipPath id="pc4"><rect x="409.16" y="127.47" width="85.78" height="64.49"/></clipPath>
<g clip-path="url(#pc4)"><g transform="translate(405 124) scale(0.13870)">
<rect x="10" y="5" width="658.5" height="505" fill="#4c5a2e"/>
<ellipse cx="200" cy="60" rx="180" ry="45" fill="#646440" filter="url(#z30)"/>
<ellipse cx="560" cy="120" rx="90" ry="110" fill="#706444" filter="url(#z30)"/>
<ellipse cx="560" cy="360" rx="100" ry="100" fill="#5e623a" filter="url(#z30)"/>
<ellipse cx="100" cy="300" rx="70" ry="120" fill="#4e6a32" filter="url(#z30)"/>
<ellipse cx="300" cy="440" rx="150" ry="50" fill="#426a2c" filter="url(#z25)"/>
<ellipse cx="480" cy="440" rx="80" ry="50" fill="#56683a" filter="url(#z25)"/>
<ellipse cx="265" cy="90" rx="35" ry="70" fill="#3c5c28" filter="url(#z16)"/>
<ellipse cx="415" cy="70" rx="35" ry="50" fill="#405e2a" filter="url(#z16)"/>
<ellipse cx="150" cy="220" rx="40" ry="60" fill="#3e5e2a" filter="url(#z20)"/>
<path d="M160 380 Q220 420 280 490 L220 495 Q180 430 160 380 Z" fill="#3a6a2a" filter="url(#z8)"/>
<rect x="295" y="360" width="50" height="140" fill="#3c5a28" filter="url(#z8)"/>
<ellipse cx="70" cy="340" rx="40" ry="48" fill="#7a6450" filter="url(#z10)"/>
<ellipse cx="50" cy="165" rx="22" ry="26" fill="#7a6a56" filter="url(#z12)"/>
<ellipse cx="335" cy="125" rx="38" ry="40" fill="#8a7058" filter="url(#z10)"/>
<ellipse cx="345" cy="258" rx="110" ry="88" fill="#bc84cc" filter="url(#z16)" opacity="0.9"/>
<ellipse cx="419.5" cy="256.2" rx="74.5" ry="9" fill="#cc90dc" filter="url(#z3)" transform="rotate(-1.4 419.5 256.2)"/>
<ellipse cx="430.7" cy="264.6" rx="86.1" ry="9" fill="#c486d6" filter="url(#z3)" transform="rotate(4.4 430.7 264.6)"/>
<ellipse cx="437.1" cy="284.9" rx="97.3" ry="9" fill="#d8a8e6" filter="url(#z3)" transform="rotate(16.3 437.1 284.9)"/>
<ellipse cx="421.5" cy="285.6" rx="83.0" ry="9" fill="#cc90dc" filter="url(#z3)" transform="rotate(19.8 421.5 285.6)"/>
<ellipse cx="417.1" cy="299.2" rx="86.5" ry="9" fill="#cc90dc" filter="url(#z3)" transform="rotate(29.8 417.1 299.2)"/>
<ellipse cx="394.3" cy="305.1" rx="73.7" ry="9" fill="#d8a8e6" filter="url(#z3)" transform="rotate(43.7 394.3 305.1)"/>
<ellipse cx="394.9" cy="319.8" rx="87.5" ry="9" fill="#cc90dc" filter="url(#z3)" transform="rotate(51.1 394.9 319.8)"/>
<ellipse cx="374.0" cy="308.5" rx="65.5" ry="9" fill="#d8a8e6" filter="url(#z3)" transform="rotate(60.1 374.0 308.5)"/>
<ellipse cx="373.9" cy="319.0" rx="76.6" ry="9" fill="#c486d6" filter="url(#z3)" transform="rotate(64.7 373.9 319.0)"/>
<ellipse cx="356.7" cy="316.5" rx="69.0" ry="9" fill="#c486d6" filter="url(#z3)" transform="rotate(78.7 356.7 316.5)"/>
<ellipse cx="344.3" cy="320.2" rx="72.4" ry="9" fill="#cc90dc" filter="url(#z3)" transform="rotate(90.6 344.3 320.2)"/>
<ellipse cx="332.9" cy="318.5" rx="71.3" ry="9" fill="#c486d6" filter="url(#z3)" transform="rotate(101.3 332.9 318.5)"/>
<ellipse cx="326.9" cy="318.9" rx="73.1" ry="9" fill="#cc90dc" filter="url(#z3)" transform="rotate(106.5 326.9 318.9)"/>
<ellipse cx="313.0" cy="309.5" rx="67.9" ry="9" fill="#e0b4ea" filter="url(#z3)" transform="rotate(121.8 313.0 309.5)"/>
<ellipse cx="292.7" cy="314.5" rx="84.0" ry="9" fill="#e0b4ea" filter="url(#z3)" transform="rotate(132.8 292.7 314.5)"/>
<ellipse cx="291.5" cy="306.1" rx="77.5" ry="9" fill="#d8a8e6" filter="url(#z3)" transform="rotate(138.0 291.5 306.1)"/>
<ellipse cx="281.0" cy="295.4" rx="77.3" ry="9" fill="#c486d6" filter="url(#z3)" transform="rotate(149.7 281.0 295.4)"/>
<ellipse cx="259.1" cy="295.3" rx="96.3" ry="9" fill="#e0b4ea" filter="url(#z3)" transform="rotate(156.5 259.1 295.3)"/>
<ellipse cx="251.6" cy="287.2" rx="99.4" ry="9" fill="#cc90dc" filter="url(#z3)" transform="rotate(162.7 251.6 287.2)"/>
<ellipse cx="271.0" cy="268.0" rx="74.9" ry="9" fill="#c486d6" filter="url(#z3)" transform="rotate(172.3 271.0 268.0)"/>
<ellipse cx="260.5" cy="262.1" rx="84.7" ry="9" fill="#cc90dc" filter="url(#z3)" transform="rotate(177.3 260.5 262.1)"/>
<ellipse cx="274.6" cy="243.8" rx="72.3" ry="9" fill="#c486d6" filter="url(#z3)" transform="rotate(-168.6 274.6 243.8)"/>
<ellipse cx="267.8" cy="238.3" rx="80.5" ry="9" fill="#e0b4ea" filter="url(#z3)" transform="rotate(-165.7 267.8 238.3)"/>
<ellipse cx="270.9" cy="224.5" rx="83.7" ry="9" fill="#cc90dc" filter="url(#z3)" transform="rotate(-155.7 270.9 224.5)"/>
<ellipse cx="280.6" cy="211.4" rx="84.2" ry="9" fill="#cc90dc" filter="url(#z3)" transform="rotate(-144.1 280.6 211.4)"/>
<ellipse cx="276.3" cy="206.7" rx="91.0" ry="9" fill="#e0b4ea" filter="url(#z3)" transform="rotate(-143.2 276.3 206.7)"/>
<ellipse cx="294.8" cy="202.7" rx="81.6" ry="9" fill="#c486d6" filter="url(#z3)" transform="rotate(-132.2 294.8 202.7)"/>
<ellipse cx="301.3" cy="196.4" rx="83.9" ry="9" fill="#d8a8e6" filter="url(#z3)" transform="rotate(-125.3 301.3 196.4)"/>
<ellipse cx="325.2" cy="202.2" rx="67.8" ry="9" fill="#d8a8e6" filter="url(#z3)" transform="rotate(-109.6 325.2 202.2)"/>
<ellipse cx="338.3" cy="207.5" rx="59.1" ry="9" fill="#d8a8e6" filter="url(#z3)" transform="rotate(-97.6 338.3 207.5)"/>
<ellipse cx="343.7" cy="190.9" rx="78.0" ry="9" fill="#e0b4ea" filter="url(#z3)" transform="rotate(-91.1 343.7 190.9)"/>
<ellipse cx="351.0" cy="200.8" rx="66.8" ry="9" fill="#c486d6" filter="url(#z3)" transform="rotate(-84.0 351.0 200.8)"/>
<ellipse cx="372.7" cy="197.5" rx="75.7" ry="9" fill="#c486d6" filter="url(#z3)" transform="rotate(-65.4 372.7 197.5)"/>
<ellipse cx="383.5" cy="198.0" rx="79.7" ry="9" fill="#e0b4ea" filter="url(#z3)" transform="rotate(-57.3 383.5 198.0)"/>
<ellipse cx="393.1" cy="209.0" rx="74.5" ry="9" fill="#d8a8e6" filter="url(#z3)" transform="rotate(-45.5 393.1 209.0)"/>
<ellipse cx="404.8" cy="200.5" rx="89.8" ry="9" fill="#cc90dc" filter="url(#z3)" transform="rotate(-43.9 404.8 200.5)"/>
<ellipse cx="415.8" cy="213.5" rx="87.7" ry="9" fill="#c486d6" filter="url(#z3)" transform="rotate(-32.1 415.8 213.5)"/>
<ellipse cx="410.0" cy="227.0" rx="74.4" ry="9" fill="#c486d6" filter="url(#z3)" transform="rotate(-25.5 410.0 227.0)"/>
<ellipse cx="421.1" cy="238.0" rx="79.6" ry="9" fill="#d8a8e6" filter="url(#z3)" transform="rotate(-14.7 421.1 238.0)"/>
<ellipse cx="429.8" cy="248.7" rx="85.5" ry="9" fill="#cc90dc" filter="url(#z3)" transform="rotate(-6.2 429.8 248.7)"/>
<ellipse cx="345" cy="248" rx="50" ry="42" fill="#d47ccc" filter="url(#z8)"/>
<path d="M310 290 L298 335" fill="none" stroke="#5a2a5a" stroke-width="8" stroke-linecap="round" filter="url(#z3)" opacity="0.7"/>
<path d="M345 300 L350 345" fill="none" stroke="#5a2a5a" stroke-width="8" stroke-linecap="round" filter="url(#z3)" opacity="0.7"/>
<path d="M280 275 L250 300" fill="none" stroke="#5a2a5a" stroke-width="8" stroke-linecap="round" filter="url(#z3)" opacity="0.7"/>
<path d="M390 285 L420 310" fill="none" stroke="#5a2a5a" stroke-width="8" stroke-linecap="round" filter="url(#z3)" opacity="0.7"/>
<path d="M330 190 L330 160" fill="none" stroke="#5a2a5a" stroke-width="8" stroke-linecap="round" filter="url(#z3)" opacity="0.7"/>
</g></g>
<clipPath id="pc5"><rect x="502.09" y="127.47" width="85.85" height="64.49"/></clipPath>
<g clip-path="url(#pc5)"><g transform="translate(498 124) scale(0.13870)">
<rect x="9.5" y="5" width="659.0" height="505" fill="#1c4a14"/>
<ellipse cx="140" cy="100" rx="120" ry="45" fill="#56a040" filter="url(#z16)" transform="rotate(-10 140 100)"/>
<ellipse cx="520" cy="90" rx="130" ry="70" fill="#4a8c38" filter="url(#z25)"/>
<ellipse cx="560" cy="300" rx="90" ry="130" fill="#337a26" filter="url(#z25)"/>
<ellipse cx="90" cy="280" rx="60" ry="80" fill="#4c9038" filter="url(#z20)"/>
<ellipse cx="80" cy="420" rx="80" ry="60" fill="#17400f" filter="url(#z20)"/>
<ellipse cx="250" cy="430" rx="80" ry="50" fill="#1e4a14" filter="url(#z20)"/>
<ellipse cx="430" cy="420" rx="90" ry="60" fill="#20501a" filter="url(#z25)"/>
<ellipse cx="600" cy="440" rx="50" ry="40" fill="#4c9436" filter="url(#z20)"/>
<ellipse cx="470" cy="200" rx="60" ry="60" fill="#2a6a20" filter="url(#z20)"/>
<ellipse cx="100" cy="180" rx="50" ry="30" fill="#1c4c14" filter="url(#z16)"/>
<path d="M60 80 Q200 100 260 160" fill="none" stroke="#78b45a" stroke-width="20" stroke-linecap="round" filter="url(#z8)"/>
<path d="M150 60 Q200 200 230 260" fill="none" stroke="#70aa50" stroke-width="10" stroke-linecap="round" filter="url(#z5)"/>
<path d="M430 360 Q480 420 530 490" fill="none" stroke="#5a9a3e" stroke-width="18" stroke-linecap="round" filter="url(#z5)"/>
<path d="M410 40 L400 160" fill="none" stroke="#5a9a3e" stroke-width="10" stroke-linecap="round" filter="url(#z5)"/>
<path d="M230 380 Q200 440 180 490" fill="none" stroke="#3a7a2a" stroke-width="12" stroke-linecap="round" filter="url(#z5)"/>
<ellipse cx="325" cy="262" rx="125" ry="125" fill="#e0e6ca" filter="url(#z8)"/>
<ellipse cx="320" cy="270" rx="65" ry="65" fill="#c0cc94" filter="url(#z16)"/>
<ellipse cx="442" cy="256" rx="22" ry="9" fill="#eef2e0" filter="url(#z3)" transform="rotate(-3.0 442 256)"/>
<ellipse cx="435" cy="292" rx="22" ry="9" fill="#ffffff" filter="url(#z3)" transform="rotate(15.4 435 292)"/>
<ellipse cx="417" cy="289" rx="22" ry="9" fill="#eef2e0" filter="url(#z3)" transform="rotate(16.2 417 289)"/>
<ellipse cx="416" cy="313" rx="22" ry="9" fill="#ffffff" filter="url(#z3)" transform="rotate(29.0 416 313)"/>
<ellipse cx="420" cy="348" rx="22" ry="9" fill="#eef2e0" filter="url(#z3)" transform="rotate(42.0 420 348)"/>
<ellipse cx="405" cy="364" rx="22" ry="9" fill="#f6f8ee" filter="url(#z3)" transform="rotate(51.8 405 364)"/>
<ellipse cx="380" cy="380" rx="22" ry="9" fill="#ffffff" filter="url(#z3)" transform="rotate(65.1 380 380)"/>
<ellipse cx="353" cy="353" rx="22" ry="9" fill="#f6f8ee" filter="url(#z3)" transform="rotate(72.9 353 353)"/>
<ellipse cx="346" cy="394" rx="22" ry="9" fill="#f6f8ee" filter="url(#z3)" transform="rotate(80.8 346 394)"/>
<ellipse cx="320" cy="358" rx="22" ry="9" fill="#eef2e0" filter="url(#z3)" transform="rotate(93.0 320 358)"/>
<ellipse cx="292" cy="381" rx="22" ry="9" fill="#eef2e0" filter="url(#z3)" transform="rotate(105.6 292 381)"/>
<ellipse cx="261" cy="377" rx="22" ry="9" fill="#eef2e0" filter="url(#z3)" transform="rotate(118.9 261 377)"/>
<ellipse cx="250" cy="353" rx="22" ry="9" fill="#f6f8ee" filter="url(#z3)" transform="rotate(129.7 250 353)"/>
<ellipse cx="247" cy="323" rx="22" ry="9" fill="#f6f8ee" filter="url(#z3)" transform="rotate(142.0 247 323)"/>
<ellipse cx="236" cy="318" rx="22" ry="9" fill="#ffffff" filter="url(#z3)" transform="rotate(148.2 236 318)"/>
<ellipse cx="214" cy="307" rx="22" ry="9" fill="#eef2e0" filter="url(#z3)" transform="rotate(158.1 214 307)"/>
<ellipse cx="199" cy="288" rx="22" ry="9" fill="#ffffff" filter="url(#z3)" transform="rotate(168.5 199 288)"/>
<ellipse cx="207" cy="266" rx="22" ry="9" fill="#ffffff" filter="url(#z3)" transform="rotate(178.3 207 266)"/>
<ellipse cx="217" cy="248" rx="22" ry="9" fill="#f6f8ee" filter="url(#z3)" transform="rotate(187.5 217 248)"/>
<ellipse cx="203" cy="205" rx="22" ry="9" fill="#ffffff" filter="url(#z3)" transform="rotate(205.3 203 205)"/>
<ellipse cx="223" cy="193" rx="22" ry="9" fill="#eef2e0" filter="url(#z3)" transform="rotate(214.0 223 193)"/>
<ellipse cx="237" cy="165" rx="22" ry="9" fill="#ffffff" filter="url(#z3)" transform="rotate(227.7 237 165)"/>
<ellipse cx="245" cy="171" rx="22" ry="9" fill="#ffffff" filter="url(#z3)" transform="rotate(228.4 245 171)"/>
<ellipse cx="280" cy="153" rx="22" ry="9" fill="#eef2e0" filter="url(#z3)" transform="rotate(247.3 280 153)"/>
<ellipse cx="286" cy="155" rx="22" ry="9" fill="#ffffff" filter="url(#z3)" transform="rotate(249.8 286 155)"/>
<ellipse cx="326" cy="163" rx="22" ry="9" fill="#f6f8ee" filter="url(#z3)" transform="rotate(270.3 326 163)"/>
<ellipse cx="333" cy="161" rx="22" ry="9" fill="#eef2e0" filter="url(#z3)" transform="rotate(274.3 333 161)"/>
<ellipse cx="354" cy="154" rx="22" ry="9" fill="#f6f8ee" filter="url(#z3)" transform="rotate(285.0 354 154)"/>
<ellipse cx="368" cy="151" rx="22" ry="9" fill="#f6f8ee" filter="url(#z3)" transform="rotate(291.2 368 151)"/>
<ellipse cx="394" cy="166" rx="22" ry="9" fill="#ffffff" filter="url(#z3)" transform="rotate(305.7 394 166)"/>
<ellipse cx="431" cy="179" rx="22" ry="9" fill="#ffffff" filter="url(#z3)" transform="rotate(322.0 431 179)"/>
<ellipse cx="404" cy="207" rx="22" ry="9" fill="#f6f8ee" filter="url(#z3)" transform="rotate(325.2 404 207)"/>
<ellipse cx="432" cy="210" rx="22" ry="9" fill="#f6f8ee" filter="url(#z3)" transform="rotate(334.0 432 210)"/>
<ellipse cx="458" cy="249" rx="22" ry="9" fill="#eef2e0" filter="url(#z3)" transform="rotate(354.6 458 249)"/>
<ellipse cx="280" cy="190" rx="22" ry="16" fill="#f2f4e8" filter="url(#z6)"/>
<ellipse cx="360" cy="180" rx="22" ry="16" fill="#f2f4e8" filter="url(#z6)"/>
<ellipse cx="240" cy="260" rx="22" ry="16" fill="#f2f4e8" filter="url(#z6)"/>
<ellipse cx="410" cy="270" rx="22" ry="16" fill="#f2f4e8" filter="url(#z6)"/>
<ellipse cx="300" cy="340" rx="22" ry="16" fill="#f2f4e8" filter="url(#z6)"/>
<ellipse cx="370" cy="340" rx="22" ry="16" fill="#f2f4e8" filter="url(#z6)"/>
</g></g>
<clipPath id="pc6"><rect x="595.20" y="127.43" width="86.65" height="64.50"/></clipPath>
<g clip-path="url(#pc6)"><g transform="translate(591 124) scale(0.13723)">
<rect x="10.600000000000001" y="5" width="671.4" height="510" fill="#3c7a28"/>
<ellipse cx="90" cy="250" rx="60" ry="200" fill="#2a641a" filter="url(#z30)"/>
<ellipse cx="620" cy="250" rx="50" ry="200" fill="#2e6a1e" filter="url(#z30)"/>
<ellipse cx="520" cy="120" rx="60" ry="80" fill="#54923a" filter="url(#z30)"/>
<ellipse cx="480" cy="440" rx="120" ry="50" fill="#3a7424" filter="url(#z25)"/>
<ellipse cx="150" cy="450" rx="90" ry="40" fill="#2c5e1c" filter="url(#z25)"/>
<path d="M190 30 L205 490" fill="none" stroke="#72aa48" stroke-width="14" stroke-linecap="round" filter="url(#z5)"/>
<path d="M560 130 L500 490" fill="none" stroke="#5a9a3a" stroke-width="10" stroke-linecap="round" filter="url(#z5)"/>
<path d="M250 40 Q300 30 380 40" fill="none" stroke="#8a7060" stroke-width="8" stroke-linecap="round" filter="url(#z5)" opacity="0.6"/>
<ellipse cx="340" cy="270" rx="140" ry="135" fill="#a896e2" filter="url(#z10)"/>
<ellipse cx="482" cy="269" rx="34" ry="16" fill="#9886dc" filter="url(#z4)" transform="rotate(-0.4 482 269)"/>
<ellipse cx="491" cy="301" rx="34" ry="16" fill="#8a78d4" filter="url(#z4)" transform="rotate(11.6 491 301)"/>
<ellipse cx="471" cy="321" rx="34" ry="16" fill="#a090e0" filter="url(#z4)" transform="rotate(21.1 471 321)"/>
<ellipse cx="442" cy="347" rx="34" ry="16" fill="#9886dc" filter="url(#z4)" transform="rotate(37.0 442 347)"/>
<ellipse cx="426" cy="359" rx="34" ry="16" fill="#a090e0" filter="url(#z4)" transform="rotate(46.2 426 359)"/>
<ellipse cx="409" cy="396" rx="34" ry="16" fill="#9886dc" filter="url(#z4)" transform="rotate(61.2 409 396)"/>
<ellipse cx="375" cy="412" rx="34" ry="16" fill="#a090e0" filter="url(#z4)" transform="rotate(76.3 375 412)"/>
<ellipse cx="352" cy="414" rx="34" ry="16" fill="#a090e0" filter="url(#z4)" transform="rotate(85.4 352 414)"/>
<ellipse cx="336" cy="391" rx="34" ry="16" fill="#8a78d4" filter="url(#z4)" transform="rotate(92.0 336 391)"/>
<ellipse cx="291" cy="413" rx="34" ry="16" fill="#9886dc" filter="url(#z4)" transform="rotate(108.9 291 413)"/>
<ellipse cx="264" cy="404" rx="34" ry="16" fill="#a090e0" filter="url(#z4)" transform="rotate(119.5 264 404)"/>
<ellipse cx="256" cy="372" rx="34" ry="16" fill="#8a78d4" filter="url(#z4)" transform="rotate(129.6 256 372)"/>
<ellipse cx="226" cy="348" rx="34" ry="16" fill="#9886dc" filter="url(#z4)" transform="rotate(145.5 226 348)"/>
<ellipse cx="211" cy="330" rx="34" ry="16" fill="#8a78d4" filter="url(#z4)" transform="rotate(155.1 211 330)"/>
<ellipse cx="209" cy="293" rx="34" ry="16" fill="#8a78d4" filter="url(#z4)" transform="rotate(169.9 209 293)"/>
<ellipse cx="219" cy="270" rx="34" ry="16" fill="#a090e0" filter="url(#z4)" transform="rotate(180.1 219 270)"/>
<ellipse cx="208" cy="236" rx="34" ry="16" fill="#9886dc" filter="url(#z4)" transform="rotate(194.4 208 236)"/>
<ellipse cx="194" cy="208" rx="34" ry="16" fill="#a090e0" filter="url(#z4)" transform="rotate(203.0 194 208)"/>
<ellipse cx="230" cy="203" rx="34" ry="16" fill="#8a78d4" filter="url(#z4)" transform="rotate(211.4 230 203)"/>
<ellipse cx="233" cy="152" rx="34" ry="16" fill="#9886dc" filter="url(#z4)" transform="rotate(227.7 233 152)"/>
<ellipse cx="267" cy="147" rx="34" ry="16" fill="#8a78d4" filter="url(#z4)" transform="rotate(239.3 267 147)"/>
<ellipse cx="305" cy="144" rx="34" ry="16" fill="#8a78d4" filter="url(#z4)" transform="rotate(254.6 305 144)"/>
<ellipse cx="324" cy="150" rx="34" ry="16" fill="#9886dc" filter="url(#z4)" transform="rotate(262.3 324 150)"/>
<ellipse cx="358" cy="147" rx="34" ry="16" fill="#8a78d4" filter="url(#z4)" transform="rotate(278.4 358 147)"/>
<ellipse cx="381" cy="157" rx="34" ry="16" fill="#9886dc" filter="url(#z4)" transform="rotate(289.9 381 157)"/>
<ellipse cx="409" cy="163" rx="34" ry="16" fill="#a090e0" filter="url(#z4)" transform="rotate(302.7 409 163)"/>
<ellipse cx="429" cy="161" rx="34" ry="16" fill="#a090e0" filter="url(#z4)" transform="rotate(309.1 429 161)"/>
<ellipse cx="454" cy="194" rx="34" ry="16" fill="#9886dc" filter="url(#z4)" transform="rotate(326.5 454 194)"/>
<ellipse cx="461" cy="207" rx="34" ry="16" fill="#8a78d4" filter="url(#z4)" transform="rotate(332.5 461 207)"/>
<ellipse cx="488" cy="226" rx="34" ry="16" fill="#a090e0" filter="url(#z4)" transform="rotate(343.4 488 226)"/>
<ellipse cx="330" cy="250" rx="100" ry="95" fill="#c6b4ee" filter="url(#z16)"/>
<ellipse cx="320" cy="230" rx="50" ry="45" fill="#d4c6f4" filter="url(#z16)"/>
</g></g>
<clipPath id="pc7"><rect x="502.09" y="224.16" width="85.85" height="64.49"/></clipPath>
<g clip-path="url(#pc7)"><g transform="translate(498 220) scale(0.13870)">
<rect x="9.5" y="10" width="659.0" height="505" fill="#6e8264"/>
<ellipse cx="570" cy="160" rx="110" ry="130" fill="#8e9c8a" filter="url(#z30)"/>
<ellipse cx="80" cy="250" rx="60" ry="200" fill="#4e7040" filter="url(#z30)"/>
<ellipse cx="560" cy="420" rx="120" ry="60" fill="#5e8640" filter="url(#z25)"/>
<ellipse cx="250" cy="460" rx="120" ry="40" fill="#587a46" filter="url(#z25)"/>
<path d="M100 490 Q40 300 110 90" fill="none" stroke="#3a6a2a" stroke-width="22" stroke-linecap="round" filter="url(#z6)"/>
<path d="M180 80 Q240 140 300 180 Q360 150 400 90" fill="none" stroke="#4a6a3a" stroke-width="10" stroke-linecap="round" filter="url(#z5)"/>
<path d="M300 180 L330 260" fill="none" stroke="#4a6a3a" stroke-width="10" stroke-linecap="round" filter="url(#z5)"/>
<path d="M230 120 L210 200" fill="none" stroke="#4a6a3a" stroke-width="10" stroke-linecap="round" filter="url(#z5)"/>
<ellipse cx="150" cy="230" rx="40" ry="80" fill="#3a4a30" filter="url(#z16)"/>
<ellipse cx="270" cy="350" rx="30" ry="60" fill="#2e3a26" filter="url(#z16)"/>
<ellipse cx="165" cy="70" rx="45" ry="40" fill="#6e50b2" filter="url(#z8)"/>
<ellipse cx="165" cy="60.0" rx="31.499999999999996" ry="24.0" fill="#8a70cc" filter="url(#z12)"/>
<ellipse cx="157" cy="54.0" rx="18.0" ry="14.0" fill="#a892e0" filter="url(#z12)"/>
<ellipse cx="390" cy="120" rx="45" ry="80" fill="#6e50b2" filter="url(#z8)" transform="rotate(-50 390 120)"/>
<ellipse cx="390" cy="100.0" rx="31.499999999999996" ry="48.0" fill="#8a70cc" filter="url(#z12)" transform="rotate(-50 390 100.0)"/>
<ellipse cx="382" cy="88.0" rx="18.0" ry="28.0" fill="#a892e0" filter="url(#z12)" transform="rotate(-50 382 88.0)"/>
<ellipse cx="520" cy="172" rx="45" ry="72" fill="#6e50b2" filter="url(#z8)" transform="rotate(-35 520 172)"/>
<ellipse cx="520" cy="154.0" rx="31.499999999999996" ry="43.199999999999996" fill="#8a70cc" filter="url(#z12)" transform="rotate(-35 520 154.0)"/>
<ellipse cx="512" cy="143.2" rx="18.0" ry="25.2" fill="#a892e0" filter="url(#z12)" transform="rotate(-35 512 143.2)"/>
<ellipse cx="208" cy="240" rx="45" ry="92" fill="#6e50b2" filter="url(#z8)"/>
<ellipse cx="208" cy="217.0" rx="31.499999999999996" ry="55.199999999999996" fill="#8a70cc" filter="url(#z12)"/>
<ellipse cx="200" cy="203.2" rx="18.0" ry="32.199999999999996" fill="#a892e0" filter="url(#z12)"/>
<ellipse cx="332" cy="290" rx="52" ry="88" fill="#6e50b2" filter="url(#z8)" transform="rotate(-10 332 290)"/>
<ellipse cx="332" cy="268.0" rx="36.4" ry="52.8" fill="#8a70cc" filter="url(#z12)" transform="rotate(-10 332 268.0)"/>
<ellipse cx="324" cy="254.8" rx="20.8" ry="30.799999999999997" fill="#a892e0" filter="url(#z12)" transform="rotate(-10 324 254.8)"/>
<ellipse cx="505" cy="280" rx="58" ry="88" fill="#6e50b2" filter="url(#z8)" transform="rotate(-35 505 280)"/>
<ellipse cx="505" cy="258.0" rx="40.599999999999994" ry="52.8" fill="#8a70cc" filter="url(#z12)" transform="rotate(-35 505 258.0)"/>
<ellipse cx="497" cy="244.8" rx="23.200000000000003" ry="30.799999999999997" fill="#a892e0" filter="url(#z12)" transform="rotate(-35 497 244.8)"/>
<ellipse cx="205" cy="395" rx="62" ry="88" fill="#6e50b2" filter="url(#z8)"/>
<ellipse cx="205" cy="373.0" rx="43.4" ry="52.8" fill="#8a70cc" filter="url(#z12)"/>
<ellipse cx="197" cy="359.8" rx="24.8" ry="30.799999999999997" fill="#a892e0" filter="url(#z12)"/>
<ellipse cx="120" cy="410" rx="38" ry="70" fill="#6e50b2" filter="url(#z8)" transform="rotate(10 120 410)"/>
<ellipse cx="120" cy="392.5" rx="26.599999999999998" ry="42.0" fill="#8a70cc" filter="url(#z12)" transform="rotate(10 120 392.5)"/>
<ellipse cx="112" cy="382.0" rx="15.200000000000001" ry="24.5" fill="#a892e0" filter="url(#z12)" transform="rotate(10 112 382.0)"/>
<ellipse cx="445" cy="370" rx="48" ry="80" fill="#6e50b2" filter="url(#z8)" transform="rotate(10 445 370)"/>
<ellipse cx="445" cy="350.0" rx="33.599999999999994" ry="48.0" fill="#8a70cc" filter="url(#z12)" transform="rotate(10 445 350.0)"/>
<ellipse cx="437" cy="338.0" rx="19.200000000000003" ry="28.0" fill="#a892e0" filter="url(#z12)" transform="rotate(10 437 338.0)"/>
<ellipse cx="262" cy="125" rx="28" ry="48" fill="#6e50b2" filter="url(#z8)"/>
<ellipse cx="262" cy="113.0" rx="19.599999999999998" ry="28.799999999999997" fill="#8a70cc" filter="url(#z12)"/>
<ellipse cx="254" cy="105.8" rx="11.200000000000001" ry="16.799999999999997" fill="#a892e0" filter="url(#z12)"/>
<ellipse cx="370" cy="415" rx="28" ry="48" fill="#3a2c1c" filter="url(#z5)"/>
<ellipse cx="370" cy="395" rx="18" ry="18" fill="#8a6a30" filter="url(#z5)"/>
</g></g>
<clipPath id="pc8"><rect x="595.20" y="224.12" width="86.65" height="64.50"/></clipPath>
<g clip-path="url(#pc8)"><g transform="translate(591 220) scale(0.13723)">
<rect x="10.600000000000001" y="10" width="671.4" height="510" fill="#387628"/>
<ellipse cx="200" cy="40" rx="200" ry="40" fill="#62a044" filter="url(#z30)"/>
<ellipse cx="600" cy="200" rx="70" ry="130" fill="#56943c" filter="url(#z30)"/>
<ellipse cx="600" cy="430" rx="80" ry="80" fill="#1a4612" filter="url(#z30)"/>
<ellipse cx="100" cy="430" rx="80" ry="80" fill="#285a1a" filter="url(#z30)"/>
<ellipse cx="560" cy="60" rx="80" ry="40" fill="#2c6220" filter="url(#z25)"/>
<path d="M45 110 Q110 300 190 490" fill="none" stroke="#9cc45c" stroke-width="36" stroke-linecap="round" filter="url(#z8)"/>
<path d="M245 500 Q225 330 260 190 Q300 80 380 70 Q450 110 445 250 Q435 400 440 500 Z" fill="#d2d0a8" filter="url(#z8)"/>
<ellipse cx="345" cy="300" rx="85" ry="110" fill="#e6e4d6" filter="url(#z16)"/>
<ellipse cx="360" cy="130" rx="85" ry="70" fill="#bcd276" filter="url(#z12)"/>
<ellipse cx="345" cy="455" rx="85" ry="45" fill="#c6b488" filter="url(#z12)"/>
<path d="M288 294 L165 279" fill="none" stroke="#eeeee2" stroke-width="10" stroke-linecap="round" filter="url(#z3)"/>
<ellipse cx="165" cy="279" rx="10" ry="8" fill="#c8dc78" filter="url(#z3)"/>
<path d="M418 327 L492 295" fill="none" stroke="#eeeee2" stroke-width="10" stroke-linecap="round" filter="url(#z3)"/>
<ellipse cx="492" cy="295" rx="10" ry="8" fill="#c8dc78" filter="url(#z3)"/>
<path d="M291 384 L184 306" fill="none" stroke="#eeeee2" stroke-width="10" stroke-linecap="round" filter="url(#z3)"/>
<ellipse cx="184" cy="306" rx="10" ry="8" fill="#c8dc78" filter="url(#z3)"/>
<path d="M397 251 L524 206" fill="none" stroke="#eeeee2" stroke-width="10" stroke-linecap="round" filter="url(#z3)"/>
<ellipse cx="524" cy="206" rx="10" ry="8" fill="#c8dc78" filter="url(#z3)"/>
<path d="M303 124 L222 112" fill="none" stroke="#eeeee2" stroke-width="10" stroke-linecap="round" filter="url(#z3)"/>
<ellipse cx="222" cy="112" rx="10" ry="8" fill="#c8dc78" filter="url(#z3)"/>
<path d="M395 334 L526 242" fill="none" stroke="#eeeee2" stroke-width="10" stroke-linecap="round" filter="url(#z3)"/>
<ellipse cx="526" cy="242" rx="10" ry="8" fill="#c8dc78" filter="url(#z3)"/>
<path d="M306 293 L247 283" fill="none" stroke="#eeeee2" stroke-width="10" stroke-linecap="round" filter="url(#z3)"/>
<ellipse cx="247" cy="283" rx="10" ry="8" fill="#c8dc78" filter="url(#z3)"/>
<path d="M396 179 L574 149" fill="none" stroke="#eeeee2" stroke-width="10" stroke-linecap="round" filter="url(#z3)"/>
<ellipse cx="574" cy="149" rx="10" ry="8" fill="#c8dc78" filter="url(#z3)"/>
<path d="M281 201 L182 172" fill="none" stroke="#eeeee2" stroke-width="10" stroke-linecap="round" filter="url(#z3)"/>
<ellipse cx="182" cy="172" rx="10" ry="8" fill="#c8dc78" filter="url(#z3)"/>
<path d="M418 177 L567 161" fill="none" stroke="#eeeee2" stroke-width="10" stroke-linecap="round" filter="url(#z3)"/>
<ellipse cx="567" cy="161" rx="10" ry="8" fill="#c8dc78" filter="url(#z3)"/>
<path d="M301 370 L228 320" fill="none" stroke="#eeeee2" stroke-width="10" stroke-linecap="round" filter="url(#z3)"/>
<ellipse cx="228" cy="320" rx="10" ry="8" fill="#c8dc78" filter="url(#z3)"/>
<path d="M392 161 L495 125" fill="none" stroke="#eeeee2" stroke-width="10" stroke-linecap="round" filter="url(#z3)"/>
<ellipse cx="495" cy="125" rx="10" ry="8" fill="#c8dc78" filter="url(#z3)"/>
<path d="M290 121 L214 79" fill="none" stroke="#eeeee2" stroke-width="10" stroke-linecap="round" filter="url(#z3)"/>
<ellipse cx="214" cy="79" rx="10" ry="8" fill="#c8dc78" filter="url(#z3)"/>
<path d="M404 349 L506 306" fill="none" stroke="#eeeee2" stroke-width="10" stroke-linecap="round" filter="url(#z3)"/>
<ellipse cx="506" cy="306" rx="10" ry="8" fill="#c8dc78" filter="url(#z3)"/>
<path d="M308 317 L201 230" fill="none" stroke="#eeeee2" stroke-width="10" stroke-linecap="round" filter="url(#z3)"/>
<ellipse cx="201" cy="230" rx="10" ry="8" fill="#c8dc78" filter="url(#z3)"/>
<path d="M415 330 L493 313" fill="none" stroke="#eeeee2" stroke-width="10" stroke-linecap="round" filter="url(#z3)"/>
<ellipse cx="493" cy="313" rx="10" ry="8" fill="#c8dc78" filter="url(#z3)"/>
<path d="M293 223 L245 185" fill="none" stroke="#eeeee2" stroke-width="10" stroke-linecap="round" filter="url(#z3)"/>
<ellipse cx="245" cy="185" rx="10" ry="8" fill="#c8dc78" filter="url(#z3)"/>
<path d="M419 171 L514 148" fill="none" stroke="#eeeee2" stroke-width="10" stroke-linecap="round" filter="url(#z3)"/>
<ellipse cx="514" cy="148" rx="10" ry="8" fill="#c8dc78" filter="url(#z3)"/>
<path d="M282 380 L204 340" fill="none" stroke="#eeeee2" stroke-width="10" stroke-linecap="round" filter="url(#z3)"/>
<ellipse cx="204" cy="340" rx="10" ry="8" fill="#c8dc78" filter="url(#z3)"/>
<path d="M413 267 L500 246" fill="none" stroke="#eeeee2" stroke-width="10" stroke-linecap="round" filter="url(#z3)"/>
<ellipse cx="500" cy="246" rx="10" ry="8" fill="#c8dc78" filter="url(#z3)"/>
<path d="M284 343 L222 336" fill="none" stroke="#eeeee2" stroke-width="10" stroke-linecap="round" filter="url(#z3)"/>
<ellipse cx="222" cy="336" rx="10" ry="8" fill="#c8dc78" filter="url(#z3)"/>
<path d="M400 146 L540 126" fill="none" stroke="#eeeee2" stroke-width="10" stroke-linecap="round" filter="url(#z3)"/>
<ellipse cx="540" cy="126" rx="10" ry="8" fill="#c8dc78" filter="url(#z3)"/>
<path d="M282 215 L192 165" fill="none" stroke="#eeeee2" stroke-width="10" stroke-linecap="round" filter="url(#z3)"/>
<ellipse cx="192" cy="165" rx="10" ry="8" fill="#c8dc78" filter="url(#z3)"/>
<path d="M395 209 L466 160" fill="none" stroke="#eeeee2" stroke-width="10" stroke-linecap="round" filter="url(#z3)"/>
<ellipse cx="466" cy="160" rx="10" ry="8" fill="#c8dc78" filter="url(#z3)"/>
<path d="M280 313 L223 268" fill="none" stroke="#eeeee2" stroke-width="10" stroke-linecap="round" filter="url(#z3)"/>
<ellipse cx="223" cy="268" rx="10" ry="8" fill="#c8dc78" filter="url(#z3)"/>
<path d="M406 396 L508 333" fill="none" stroke="#eeeee2" stroke-width="10" stroke-linecap="round" filter="url(#z3)"/>
<ellipse cx="508" cy="333" rx="10" ry="8" fill="#c8dc78" filter="url(#z3)"/>
<path d="M285 286 L198 245" fill="none" stroke="#eeeee2" stroke-width="10" stroke-linecap="round" filter="url(#z3)"/>
<ellipse cx="198" cy="245" rx="10" ry="8" fill="#c8dc78" filter="url(#z3)"/>
<path d="M417 136 L493 104" fill="none" stroke="#eeeee2" stroke-width="10" stroke-linecap="round" filter="url(#z3)"/>
<ellipse cx="493" cy="104" rx="10" ry="8" fill="#c8dc78" filter="url(#z3)"/>
<path d="M306 355 L188 341" fill="none" stroke="#eeeee2" stroke-width="10" stroke-linecap="round" filter="url(#z3)"/>
<ellipse cx="188" cy="341" rx="10" ry="8" fill="#c8dc78" filter="url(#z3)"/>
<path d="M414 297 L495 259" fill="none" stroke="#eeeee2" stroke-width="10" stroke-linecap="round" filter="url(#z3)"/>
<ellipse cx="495" cy="259" rx="10" ry="8" fill="#c8dc78" filter="url(#z3)"/>
<path d="M290 140 L276 75" fill="none" stroke="#c6dc6e" stroke-width="16" stroke-linecap="round" filter="url(#z3)"/>
<path d="M304 140 L296 61" fill="none" stroke="#c6dc6e" stroke-width="16" stroke-linecap="round" filter="url(#z3)"/>
<path d="M318 140 L338 75" fill="none" stroke="#c6dc6e" stroke-width="16" stroke-linecap="round" filter="url(#z3)"/>
<path d="M332 140 L351 61" fill="none" stroke="#c6dc6e" stroke-width="16" stroke-linecap="round" filter="url(#z3)"/>
<path d="M346 140 L346 71" fill="none" stroke="#c6dc6e" stroke-width="16" stroke-linecap="round" filter="url(#z3)"/>
<path d="M360 140 L359 55" fill="none" stroke="#c6dc6e" stroke-width="16" stroke-linecap="round" filter="url(#z3)"/>
<path d="M374 140 L370 50" fill="none" stroke="#c6dc6e" stroke-width="16" stroke-linecap="round" filter="url(#z3)"/>
<path d="M388 140 L383 80" fill="none" stroke="#c6dc6e" stroke-width="16" stroke-linecap="round" filter="url(#z3)"/>
<path d="M402 140 L420 67" fill="none" stroke="#c6dc6e" stroke-width="16" stroke-linecap="round" filter="url(#z3)"/>
<path d="M416 140 L416 57" fill="none" stroke="#c6dc6e" stroke-width="16" stroke-linecap="round" filter="url(#z3)"/>
<path d="M430 140 L414 55" fill="none" stroke="#c6dc6e" stroke-width="16" stroke-linecap="round" filter="url(#z3)"/>
<path d="M444 140 L455 75" fill="none" stroke="#c6dc6e" stroke-width="16" stroke-linecap="round" filter="url(#z3)"/>
<ellipse cx="245" cy="150" rx="50" ry="58" fill="#241e14" filter="url(#z5)"/>
<ellipse cx="222" cy="160" rx="28" ry="26" fill="#c89222" filter="url(#z5)"/>
<ellipse cx="350" cy="345" rx="12" ry="12" fill="#3a3020" filter="url(#z3)"/>
</g></g>
<clipPath id="pc9"><rect x="502.09" y="308.16" width="85.85" height="64.49"/></clipPath>
<g clip-path="url(#pc9)"><g transform="translate(498 304) scale(0.13870)">
<rect x="9.5" y="10" width="659.0" height="505" fill="#5a7042"/>
<ellipse cx="580" cy="150" rx="90" ry="120" fill="#72885a" filter="url(#z30)"/>
<ellipse cx="560" cy="420" rx="110" ry="60" fill="#4a6630" filter="url(#z30)"/>
<ellipse cx="200" cy="440" rx="120" ry="50" fill="#566e40" filter="url(#z30)"/>
<ellipse cx="150" cy="50" rx="150" ry="35" fill="#34482a" filter="url(#z20)"/>
<ellipse cx="300" cy="200" rx="40" ry="60" fill="#4a6236" filter="url(#z20)"/>
<path d="M60 60 Q150 40 260 80" fill="none" stroke="#3a5a2c" stroke-width="12" stroke-linecap="round" filter="url(#z8)"/>
<path d="M45 95 Q100 85 130 110 Q190 170 225 250 Q260 280 275 300 Q230 312 185 300 Q160 360 140 385 Q115 340 100 300 Q65 292 35 275 Z" fill="#7a68e0" filter="url(#z8)"/>
<ellipse cx="105" cy="185" rx="55" ry="70" fill="#9e90f0" filter="url(#z20)"/>
<ellipse cx="150" cy="320" rx="35" ry="40" fill="#6454cc" filter="url(#z16)"/>
<path d="M30 280 Q85 290 98 340 Q112 410 105 445 Q65 440 30 425 Z" fill="#7664dc" filter="url(#z8)"/>
<ellipse cx="55" cy="350" rx="25" ry="40" fill="#9284ea" filter="url(#z16)"/>
<path d="M268 170 Q300 138 355 148 Q420 195 465 245 Q515 258 535 262 Q495 300 455 312 Q410 330 385 340 Q362 400 332 412 Q318 345 300 285 Q278 220 268 170 Z" fill="#7a66e2" filter="url(#z8)"/>
<ellipse cx="345" cy="215" rx="45" ry="60" fill="#9c8cf0" filter="url(#z20)"/>
<ellipse cx="420" cy="290" rx="40" ry="25" fill="#6656d2" filter="url(#z16)"/>
<ellipse cx="410" cy="105" rx="48" ry="65" fill="#7462dc" filter="url(#z8)"/>
<ellipse cx="340" cy="95" rx="30" ry="45" fill="#5e4ec8" filter="url(#z8)"/>
<ellipse cx="420" cy="90" rx="25" ry="30" fill="#8e7eea" filter="url(#z16)"/>
<ellipse cx="215" cy="135" rx="25" ry="35" fill="#4c4cb4" filter="url(#z8)"/>
<ellipse cx="495" cy="255" rx="45" ry="60" fill="#2e3628" filter="url(#z12)"/>
<path d="M330 410 L305 485" fill="none" stroke="#a89070" stroke-width="10" stroke-linecap="round" filter="url(#z5)"/>
</g></g>
<clipPath id="pc10"><rect x="595.39" y="309.49" width="86.46" height="64.77"/></clipPath>
<g clip-path="url(#pc10)"><g transform="translate(591 304) scale(0.13723)">
<rect x="12" y="20" width="670" height="512" fill="#a48a7e"/>
<ellipse cx="120" cy="120" rx="100" ry="80" fill="#b89c92" filter="url(#z30)"/>
<ellipse cx="420" cy="90" rx="120" ry="50" fill="#bcb0ac" filter="url(#z30)"/>
<ellipse cx="620" cy="90" rx="60" ry="60" fill="#4a403c" filter="url(#z25)"/>
<ellipse cx="600" cy="300" rx="60" ry="150" fill="#7a5c4c" filter="url(#z30)"/>
<ellipse cx="150" cy="420" rx="120" ry="80" fill="#c0aca4" filter="url(#z30)"/>
<ellipse cx="480" cy="480" rx="160" ry="40" fill="#664a3c" filter="url(#z25)"/>
<ellipse cx="140" cy="480" rx="30" ry="40" fill="#8a8a90" filter="url(#z20)"/>
<ellipse cx="60" cy="300" rx="40" ry="80" fill="#9a7c70" filter="url(#z25)"/>
<path d="M255 200 Q270 120 330 100 Q370 130 380 200 Q330 215 255 200 Z" fill="#4a9250" filter="url(#z5)"/>
<path d="M330 310 Q420 295 490 330 Q560 360 555 465 Q480 445 420 425 Q350 385 330 310 Z" fill="#3e8644" filter="url(#z5)"/>
<path d="M240 370 Q280 330 330 350 Q320 400 240 370 Z" fill="#4a9a50" filter="url(#z5)"/>
<rect x="380" y="430" width="25" height="80" fill="#4a8a40" filter="url(#z5)"/>
<ellipse cx="450" cy="380" rx="40" ry="25" fill="#5aa460" filter="url(#z12)"/>
<ellipse cx="160" cy="180" rx="38" ry="38" fill="#b474c6" filter="url(#z5)"/>
<ellipse cx="225" cy="175" rx="35" ry="35" fill="#b474c6" filter="url(#z5)"/>
<ellipse cx="145" cy="255" rx="38" ry="38" fill="#b474c6" filter="url(#z5)"/>
<ellipse cx="210" cy="300" rx="35" ry="35" fill="#b474c6" filter="url(#z5)"/>
<ellipse cx="245" cy="240" rx="30" ry="30" fill="#b474c6" filter="url(#z5)"/>
<ellipse cx="195" cy="240" rx="45" ry="45" fill="#a868bc" filter="url(#z8)"/>
<ellipse cx="210" cy="235" rx="22" ry="25" fill="#6a2a5a" filter="url(#z10)"/>
<ellipse cx="160" cy="190" rx="20" ry="20" fill="#c88ad6" filter="url(#z12)"/>
<ellipse cx="295" cy="225" rx="35" ry="45" fill="#3c1e2e" filter="url(#z5)"/>
<ellipse cx="320" cy="275" rx="32" ry="45" fill="#3a1c2c" filter="url(#z5)"/>
<ellipse cx="400" cy="225" rx="22" ry="30" fill="#40283a" filter="url(#z5)"/>
<ellipse cx="420" cy="150" rx="28" ry="38" fill="#4a4230" filter="url(#z5)"/>
<ellipse cx="410" cy="250" rx="34" ry="34" fill="#8a64ca" filter="url(#z5)"/>
<ellipse cx="490" cy="240" rx="36" ry="36" fill="#8a64ca" filter="url(#z5)"/>
<ellipse cx="395" cy="330" rx="30" ry="30" fill="#8a64ca" filter="url(#z5)"/>
<ellipse cx="505" cy="310" rx="38" ry="38" fill="#8a64ca" filter="url(#z5)"/>
<ellipse cx="430" cy="355" rx="30" ry="30" fill="#8a64ca" filter="url(#z5)"/>
<ellipse cx="450" cy="295" rx="50" ry="50" fill="#7e5ac2" filter="url(#z8)"/>
<ellipse cx="435" cy="275" rx="25" ry="25" fill="#4a2a5a" filter="url(#z10)"/>
</g></g>
<text x="452.15" y="110.80" font-size="10.8" fill="#1e1e1e" text-anchor="middle" textLength="48.30" lengthAdjust="spacingAndGlyphs" style="font-style:italic;" >H. annuus</text>
<text x="452.15" y="122.50" font-size="11.2" fill="#1e1e1e" text-anchor="middle" textLength="48.20" lengthAdjust="spacingAndGlyphs" >dish-bowl</text>
<text x="545.05" y="111.60" font-size="10.8" fill="#1e1e1e" text-anchor="middle" style="font-style:italic;" >P. vulgaris</text>
<text x="545.05" y="123.30" font-size="11.2" fill="#1e1e1e" text-anchor="middle" >flag</text>
<text x="638.65" y="108.70" font-size="10.8" fill="#1e1e1e" text-anchor="middle" style="font-style:italic;" >O. vulgare</text>
<text x="638.65" y="120.00" font-size="11.2" fill="#1e1e1e" text-anchor="middle" >gullet</text>
<text x="452.15" y="201.50" font-size="10.8" fill="#1e1e1e" text-anchor="middle" style="font-style:italic;" >C. jacea</text>
<text x="452.15" y="213.60" font-size="11.2" fill="#1e1e1e" text-anchor="middle" textLength="48.20" lengthAdjust="spacingAndGlyphs" >dish-bowl</text>
<text x="545.05" y="202.30" font-size="10.8" fill="#1e1e1e" text-anchor="middle" style="font-style:italic;" >T. repens</text>
<text x="545.05" y="214.40" font-size="11.2" fill="#1e1e1e" text-anchor="middle" >flag</text>
<text x="638.65" y="202.30" font-size="10.8" fill="#1e1e1e" text-anchor="middle" style="font-style:italic;" >K. arvensis</text>
<text x="638.65" y="214.40" font-size="11.2" fill="#1e1e1e" text-anchor="middle" textLength="48.20" lengthAdjust="spacingAndGlyphs" >dish-bowl</text>
<text x="545.05" y="303.20" font-size="11.2" fill="#1e1e1e" text-anchor="middle" >Tube</text>
<text x="638.65" y="303.20" font-size="11.2" fill="#1e1e1e" text-anchor="middle" >Brush</text>
<text x="545.05" y="386.40" font-size="11.2" fill="#1e1e1e" text-anchor="middle" textLength="61.00" lengthAdjust="spacingAndGlyphs" >Bell-trumpet</text>
<text x="638.65" y="386.40" font-size="11.2" fill="#1e1e1e" text-anchor="middle" textLength="47.50" lengthAdjust="spacingAndGlyphs" >Stalk-disk</text>
<text x="0.00" y="418.00" font-size="14.5" fill="#000" style="font-weight:bold;" transform="scale(1.1 1)">c</text>
<text x="336.55" y="418.00" font-size="14.5" fill="#000" style="font-weight:bold;" transform="scale(1.1 1)">d</text>
<text x="9.00" y="528.90" font-size="10.0" fill="#1e1e1e" text-anchor="middle" textLength="34.80" lengthAdjust="spacingAndGlyphs" transform="rotate(-90 9.00 528.90)" >NMDS2</text>
<polygon points="108.80,502.20 155.70,487.80 212.20,504.20 238.00,530.00 131.50,617.50" fill="#f0a060" fill-opacity="0.2" stroke="#dc7614" stroke-width="1.1" stroke-linejoin="round"/>
<polygon points="121.90,492.40 144.90,478.60 217.90,516.50 225.20,529.00 147.80,532.20" fill="#c05050" fill-opacity="0.22" stroke="#9a2424" stroke-width="1.1" stroke-linejoin="round"/>
<polygon points="96.90,483.70 126.40,530.70 102.60,552.00 81.80,526.90" fill="#f0c850" fill-opacity="0.2" stroke="#d8a31e" stroke-width="1.1" stroke-linejoin="round"/>
<text x="95.30" y="486.90" font-size="8.6" fill="#eab437" text-anchor="middle" >1</text>
<text x="78.70" y="530.10" font-size="8.6" fill="#eab437" text-anchor="middle" >13</text>
<text x="124.80" y="533.90" font-size="8.6" fill="#eab437" text-anchor="middle" >15</text>
<text x="101.00" y="555.20" font-size="8.6" fill="#eab437" text-anchor="middle" >18</text>
<text x="107.20" y="505.40" font-size="8.6" fill="#eab437" text-anchor="middle" >12</text>
<text x="96.40" y="519.20" font-size="8.6" fill="#eab437" text-anchor="middle" >14</text>
<text x="100.40" y="525.20" font-size="8.6" fill="#eab437" text-anchor="middle" >16</text>
<text x="93.90" y="534.20" font-size="8.6" fill="#eab437" text-anchor="middle" >17</text>
<text x="154.10" y="491.00" font-size="8.6" fill="#e07d22" text-anchor="middle" >9</text>
<text x="210.60" y="507.40" font-size="8.6" fill="#e07d22" text-anchor="middle" >2</text>
<text x="232.80" y="528.20" font-size="8.6" fill="#e07d22" text-anchor="middle" >7</text>
<text x="236.40" y="533.20" font-size="8.6" fill="#e07d22" text-anchor="middle" >10</text>
<text x="129.90" y="620.70" font-size="8.6" fill="#e07d22" text-anchor="middle" >19</text>
<text x="120.30" y="495.60" font-size="8.6" fill="#a53535" text-anchor="middle" >4</text>
<text x="143.30" y="481.80" font-size="8.6" fill="#a53535" text-anchor="middle" >6</text>
<text x="216.30" y="519.70" font-size="8.6" fill="#a53535" text-anchor="middle" >8</text>
<text x="223.60" y="532.20" font-size="8.6" fill="#a53535" text-anchor="middle" >3</text>
<text x="146.20" y="535.40" font-size="8.6" fill="#a53535" text-anchor="middle" >HB</text>
<text x="128.00" y="502.20" font-size="8.6" fill="#a53535" text-anchor="middle" >11</text>
<text x="171.40" y="515.80" font-size="8.6" fill="#a53535" text-anchor="middle" >5</text>
<text x="193.00" y="444.50" font-size="8.9" fill="#1e1e1e" textLength="25.00" lengthAdjust="spacingAndGlyphs" >Gullet</text>
<text x="86.50" y="499.30" font-size="8.9" fill="#1e1e1e" textLength="31.30" lengthAdjust="spacingAndGlyphs" >Volume</text>
<text x="50.40" y="528.40" font-size="8.9" fill="#1e1e1e" textLength="22.80" lengthAdjust="spacingAndGlyphs" >Brush</text>
<text x="139.40" y="520.70" font-size="8.9" fill="#1e1e1e" textLength="59.60" lengthAdjust="spacingAndGlyphs" >Corolla_length</text>
<text x="175.50" y="511.90" font-size="8.9" fill="#1e1e1e" textLength="51.50" lengthAdjust="spacingAndGlyphs" >Bell-trumpet</text>
<text x="188.80" y="545.30" font-size="8.9" fill="#1e1e1e" textLength="39.40" lengthAdjust="spacingAndGlyphs" >Stalk-disk</text>
<text x="292.10" y="556.50" font-size="8.9" fill="#1e1e1e" textLength="20.20" lengthAdjust="spacingAndGlyphs" >Flag</text>
<text x="68.60" y="580.90" font-size="8.9" fill="#1e1e1e" textLength="41.00" lengthAdjust="spacingAndGlyphs" >Dish-bowl</text>
<text x="333.00" y="613.10" font-size="8.9" fill="#1e1e1e" textLength="23.70" lengthAdjust="spacingAndGlyphs" >Tube</text>
<line x1="45.50" y1="425.50" x2="359.50" y2="425.50" stroke="#a2a2a2" stroke-width="1"/>
<line x1="359.50" y1="425.50" x2="359.50" y2="632.50" stroke="#a2a2a2" stroke-width="1"/>
<line x1="45.50" y1="425.00" x2="45.50" y2="633.00" stroke="#9c9c9c" stroke-width="1"/>
<line x1="45.50" y1="632.50" x2="360.00" y2="632.50" stroke="#7a7a7a" stroke-width="1"/>
<line x1="40.70" y1="447.68" x2="45.50" y2="447.68" stroke="#8a8a8a" stroke-width="1"/>
<text x="35.30" y="450.78" font-size="9.0" fill="#1e1e1e" text-anchor="end" >0.4</text>
<line x1="40.70" y1="483.34" x2="45.50" y2="483.34" stroke="#8a8a8a" stroke-width="1"/>
<text x="35.30" y="486.44" font-size="9.0" fill="#1e1e1e" text-anchor="end" >0.2</text>
<line x1="40.70" y1="519.00" x2="45.50" y2="519.00" stroke="#8a8a8a" stroke-width="1"/>
<text x="35.30" y="522.10" font-size="9.0" fill="#1e1e1e" text-anchor="end" >0</text>
<line x1="40.70" y1="554.66" x2="45.50" y2="554.66" stroke="#8a8a8a" stroke-width="1"/>
<text x="35.30" y="557.76" font-size="9.0" fill="#1e1e1e" text-anchor="end" >−0.2</text>
<line x1="40.70" y1="590.32" x2="45.50" y2="590.32" stroke="#8a8a8a" stroke-width="1"/>
<text x="35.30" y="593.42" font-size="9.0" fill="#1e1e1e" text-anchor="end" >−0.4</text>
<line x1="40.70" y1="625.98" x2="45.50" y2="625.98" stroke="#8a8a8a" stroke-width="1"/>
<text x="35.30" y="629.08" font-size="9.0" fill="#1e1e1e" text-anchor="end" >−0.6</text>
<line x1="65.40" y1="632.50" x2="65.40" y2="637.70" stroke="#8a8a8a" stroke-width="1"/>
<text x="65.40" y="648.80" font-size="9.0" fill="#1e1e1e" text-anchor="middle" >−0.5</text>
<line x1="148.40" y1="632.50" x2="148.40" y2="637.70" stroke="#8a8a8a" stroke-width="1"/>
<text x="148.40" y="648.80" font-size="9.0" fill="#1e1e1e" text-anchor="middle" >0</text>
<line x1="231.40" y1="632.50" x2="231.40" y2="637.70" stroke="#8a8a8a" stroke-width="1"/>
<text x="231.40" y="648.80" font-size="9.0" fill="#1e1e1e" text-anchor="middle" >0.5</text>
<line x1="314.40" y1="632.50" x2="314.40" y2="637.70" stroke="#8a8a8a" stroke-width="1"/>
<text x="314.40" y="648.80" font-size="9.0" fill="#1e1e1e" text-anchor="middle" >1.0</text>
<text x="202.70" y="665.20" font-size="10.0" fill="#1e1e1e" text-anchor="middle" textLength="33.80" lengthAdjust="spacingAndGlyphs" >NMDS1</text>
<text x="202.90" y="418.40" font-size="10.0" fill="#1e1e1e" text-anchor="middle" >BQCV</text>
<text x="236.40" y="444.90" font-size="10.0" fill="#1e1e1e" textLength="115.50" lengthAdjust="spacingAndGlyphs" >Mean no. of viral copies</text>
<polygon points="278.50,461.90 286.10,461.90 282.30,455.40" fill="#d8a31e"/>
<text x="291.80" y="461.70" font-size="10.2" fill="#1e1e1e" textLength="42.40" lengthAdjust="spacingAndGlyphs" >&lt;44,000</text>
<polygon points="278.50,476.70 286.10,476.70 282.30,470.20" fill="#dc7614"/>
<text x="291.80" y="476.50" font-size="10.2" fill="#1e1e1e" textLength="49.70" lengthAdjust="spacingAndGlyphs" >&lt;900,000</text>
<polygon points="278.50,491.70 286.10,491.70 282.30,485.20" fill="#9a2424"/>
<text x="291.80" y="491.50" font-size="10.2" fill="#1e1e1e" textLength="49.70" lengthAdjust="spacingAndGlyphs" >&gt;900,000</text>
<polygon points="447.10,492.40 470.10,478.60 550.40,529.00 456.70,617.50" fill="#c05050" fill-opacity="0.15" stroke="#9a2424" stroke-width="1.1" stroke-linejoin="round"/>
<polygon points="498.20,512.60 537.40,504.20 563.20,530.00" fill="#f0a060" fill-opacity="0.22" stroke="#dc7614" stroke-width="1.1" stroke-linejoin="round"/>
<polygon points="422.10,483.70 451.60,530.70 427.80,552.00 407.00,526.90" fill="#f0c850" fill-opacity="0.2" stroke="#d8a31e" stroke-width="1.1" stroke-linejoin="round"/>
<text x="420.50" y="486.90" font-size="8.6" fill="#eab437" text-anchor="middle" >1</text>
<text x="403.90" y="530.10" font-size="8.6" fill="#eab437" text-anchor="middle" >13</text>
<text x="450.00" y="533.90" font-size="8.6" fill="#eab437" text-anchor="middle" >15</text>
<text x="426.20" y="555.20" font-size="8.6" fill="#eab437" text-anchor="middle" >18</text>
<text x="432.40" y="505.40" font-size="8.6" fill="#eab437" text-anchor="middle" >12</text>
<text x="421.60" y="519.20" font-size="8.6" fill="#eab437" text-anchor="middle" >14</text>
<text x="425.60" y="525.20" font-size="8.6" fill="#eab437" text-anchor="middle" >16</text>
<text x="419.10" y="534.20" font-size="8.6" fill="#eab437" text-anchor="middle" >17</text>
<text x="496.60" y="515.80" font-size="8.6" fill="#e07d22" text-anchor="middle" >5</text>
<text x="535.80" y="507.40" font-size="8.6" fill="#e07d22" text-anchor="middle" >2</text>
<text x="558.00" y="528.20" font-size="8.6" fill="#e07d22" text-anchor="middle" >7</text>
<text x="561.60" y="533.20" font-size="8.6" fill="#e07d22" text-anchor="middle" >10</text>
<text x="541.50" y="519.70" font-size="8.6" fill="#e07d22" text-anchor="middle" >8</text>
<text x="445.50" y="495.60" font-size="8.6" fill="#a53535" text-anchor="middle" >4</text>
<text x="468.50" y="481.80" font-size="8.6" fill="#a53535" text-anchor="middle" >6</text>
<text x="479.30" y="491.00" font-size="8.6" fill="#a53535" text-anchor="middle" >9</text>
<text x="548.80" y="532.20" font-size="8.6" fill="#a53535" text-anchor="middle" >3</text>
<text x="471.40" y="535.40" font-size="8.6" fill="#a53535" text-anchor="middle" >HB</text>
<text x="453.20" y="502.20" font-size="8.6" fill="#a53535" text-anchor="middle" >11</text>
<text x="455.10" y="620.70" font-size="8.6" fill="#a53535" text-anchor="middle" >19</text>
<text x="526.20" y="444.30" font-size="8.9" fill="#1e1e1e" textLength="25.00" lengthAdjust="spacingAndGlyphs" >Gullet</text>
<text x="414.60" y="500.90" font-size="8.9" fill="#1e1e1e" textLength="31.30" lengthAdjust="spacingAndGlyphs" >Volume</text>
<text x="375.60" y="528.40" font-size="8.9" fill="#1e1e1e" textLength="22.80" lengthAdjust="spacingAndGlyphs" >Brush</text>
<text x="464.60" y="520.70" font-size="8.9" fill="#1e1e1e" textLength="59.60" lengthAdjust="spacingAndGlyphs" >Corolla_length</text>
<text x="500.70" y="511.90" font-size="8.9" fill="#1e1e1e" textLength="51.50" lengthAdjust="spacingAndGlyphs" >Bell-trumpet</text>
<text x="514.00" y="545.30" font-size="8.9" fill="#1e1e1e" textLength="39.40" lengthAdjust="spacingAndGlyphs" >Stalk-disk</text>
<text x="620.40" y="556.50" font-size="8.9" fill="#1e1e1e" textLength="20.20" lengthAdjust="spacingAndGlyphs" >Flag</text>
<text x="393.80" y="580.90" font-size="8.9" fill="#1e1e1e" textLength="41.00" lengthAdjust="spacingAndGlyphs" >Dish-bowl</text>
<text x="657.50" y="613.10" font-size="8.9" fill="#1e1e1e" textLength="23.70" lengthAdjust="spacingAndGlyphs" >Tube</text>
<line x1="370.50" y1="425.50" x2="684.50" y2="425.50" stroke="#a2a2a2" stroke-width="1"/>
<line x1="684.50" y1="425.50" x2="684.50" y2="632.50" stroke="#a2a2a2" stroke-width="1"/>
<line x1="370.50" y1="425.00" x2="370.50" y2="633.00" stroke="#9c9c9c" stroke-width="1"/>
<line x1="370.50" y1="632.50" x2="685.00" y2="632.50" stroke="#7a7a7a" stroke-width="1"/>
<line x1="365.70" y1="447.68" x2="370.50" y2="447.68" stroke="#8a8a8a" stroke-width="1"/>
<line x1="365.70" y1="483.34" x2="370.50" y2="483.34" stroke="#8a8a8a" stroke-width="1"/>
<line x1="365.70" y1="519.00" x2="370.50" y2="519.00" stroke="#8a8a8a" stroke-width="1"/>
<line x1="365.70" y1="554.66" x2="370.50" y2="554.66" stroke="#8a8a8a" stroke-width="1"/>
<line x1="365.70" y1="590.32" x2="370.50" y2="590.32" stroke="#8a8a8a" stroke-width="1"/>
<line x1="365.70" y1="625.98" x2="370.50" y2="625.98" stroke="#8a8a8a" stroke-width="1"/>
<line x1="390.60" y1="632.50" x2="390.60" y2="637.70" stroke="#8a8a8a" stroke-width="1"/>
<text x="390.60" y="648.80" font-size="9.0" fill="#1e1e1e" text-anchor="middle" >−0.5</text>
<line x1="473.60" y1="632.50" x2="473.60" y2="637.70" stroke="#8a8a8a" stroke-width="1"/>
<text x="473.60" y="648.80" font-size="9.0" fill="#1e1e1e" text-anchor="middle" >0</text>
<line x1="556.60" y1="632.50" x2="556.60" y2="637.70" stroke="#8a8a8a" stroke-width="1"/>
<text x="556.60" y="648.80" font-size="9.0" fill="#1e1e1e" text-anchor="middle" >0.5</text>
<line x1="639.60" y1="632.50" x2="639.60" y2="637.70" stroke="#8a8a8a" stroke-width="1"/>
<text x="639.60" y="648.80" font-size="9.0" fill="#1e1e1e" text-anchor="middle" >1.0</text>
<text x="527.90" y="665.20" font-size="10.0" fill="#1e1e1e" text-anchor="middle" textLength="33.80" lengthAdjust="spacingAndGlyphs" >NMDS1</text>
<text x="527.20" y="418.40" font-size="10.0" fill="#1e1e1e" text-anchor="middle" >DWV–B</text>
<text x="566.20" y="444.90" font-size="10.0" fill="#1e1e1e" textLength="115.50" lengthAdjust="spacingAndGlyphs" >Mean no. of viral copies</text>
<polygon points="606.90,461.90 614.50,461.90 610.70,455.40" fill="#d8a31e"/>
<text x="620.20" y="461.70" font-size="10.2" fill="#1e1e1e" textLength="32.40" lengthAdjust="spacingAndGlyphs" >&lt;1,600</text>
<polygon points="606.90,476.70 614.50,476.70 610.70,470.20" fill="#dc7614"/>
<text x="620.20" y="476.50" font-size="10.2" fill="#1e1e1e" textLength="40.50" lengthAdjust="spacingAndGlyphs" >&lt;10,000</text>
<polygon points="606.90,491.70 614.50,491.70 610.70,485.20" fill="#9a2424"/>
<text x="620.20" y="491.50" font-size="10.2" fill="#1e1e1e" textLength="39.70" lengthAdjust="spacingAndGlyphs" >&gt;10,400</text>
</svg>
</body></html>
